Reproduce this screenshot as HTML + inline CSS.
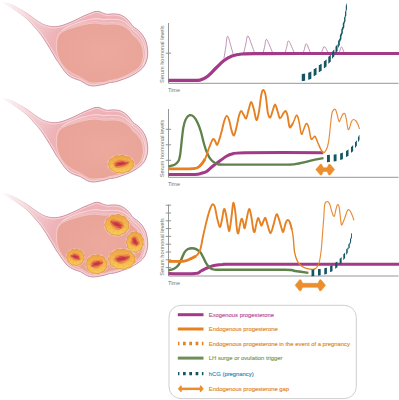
<!DOCTYPE html>
<html><head><meta charset="utf-8"><style>
html,body{margin:0;padding:0;background:#fff;width:399px;height:400px;overflow:hidden}
svg{display:block}
.ax{font-family:"Liberation Sans",sans-serif;font-size:5.9px;fill:#747474}
.lg{font-family:"Liberation Sans",sans-serif;font-size:5.85px;stroke-width:0.15px}
</style></head><body>
<svg width="399" height="400" viewBox="0 0 399 400">
<defs>
<linearGradient id="shell" x1="0" y1="0" x2="1" y2="0">
<stop offset="0" stop-color="#efc3c6"/><stop offset="0.35" stop-color="#e9b0b5"/><stop offset="1" stop-color="#e8abb0"/>
</linearGradient>
<linearGradient id="fade" x1="0" y1="0" x2="1" y2="0">
<stop offset="0" stop-color="#fff" stop-opacity="0.9"/><stop offset="0.4" stop-color="#fff" stop-opacity="0.4"/><stop offset="1" stop-color="#fff" stop-opacity="0"/>
</linearGradient>
<radialGradient id="cav" cx="0.55" cy="0.5" r="0.6">
<stop offset="0" stop-color="#eda99d"/><stop offset="1" stop-color="#e9a398"/>
</radialGradient>
<linearGradient id="folL" x1="0" y1="0" x2="0" y2="1">
<stop offset="0" stop-color="#efa245"/><stop offset="0.5" stop-color="#f4b84c"/><stop offset="1" stop-color="#f8cf5a"/>
</linearGradient>
<radialGradient id="fol" cx="0.5" cy="0.5" r="0.5">
<stop offset="0" stop-color="#e8783c" stop-opacity="0.8"/><stop offset="0.5" stop-color="#f0a040" stop-opacity="0.25"/><stop offset="0.85" stop-color="#f8d060" stop-opacity="0"/><stop offset="1" stop-color="#e39838" stop-opacity="0.5"/>
</radialGradient>
</defs>
<linearGradient id="tube0" gradientUnits="userSpaceOnUse" x1="4" y1="1.0" x2="58" y2="31.0"><stop offset="0" stop-color="#fcf3f3"/><stop offset="0.35" stop-color="#f5dcdf"/><stop offset="0.75" stop-color="#f0c2c6"/><stop offset="1" stop-color="#eeb2b7"/></linearGradient>
<linearGradient id="tubeS0" gradientUnits="userSpaceOnUse" x1="4" y1="1.0" x2="58" y2="31.0"><stop offset="0" stop-color="#f6e4e6"/><stop offset="0.45" stop-color="#e6bcc3"/><stop offset="1" stop-color="#c98b9c"/></linearGradient>
<clipPath id="oc0"><path d="M4.00,2.40 C5.33,2.63 9.33,3.67 12.00,4.80 C14.67,5.93 17.42,7.73 20.00,9.20 C22.58,10.67 25.00,11.93 27.50,13.60 C30.00,15.27 32.50,17.48 35.00,19.20 C37.50,20.92 40.21,22.75 42.50,23.90 C44.79,25.05 46.67,25.63 48.75,26.10 C50.83,26.57 52.79,26.80 55.00,26.70 C57.21,26.60 59.50,26.20 62.00,25.50 C64.50,24.80 67.40,23.58 70.00,22.50 C72.60,21.42 75.33,20.08 77.60,19.00 C79.87,17.92 81.60,16.90 83.60,16.00 C85.60,15.10 87.70,14.33 89.60,13.60 C91.50,12.87 93.43,11.95 95.00,11.60 C96.57,11.25 97.62,11.22 99.00,11.50 C100.38,11.78 101.90,12.83 103.30,13.30 C104.70,13.77 105.80,14.20 107.40,14.30 C109.00,14.40 111.07,13.90 112.90,13.90 C114.73,13.90 116.78,13.97 118.40,14.30 C120.02,14.63 121.22,15.15 122.60,15.90 C123.98,16.65 125.43,17.67 126.70,18.80 C127.97,19.93 129.15,21.42 130.20,22.70 C131.25,23.98 131.93,25.45 133.00,26.50 C134.07,27.55 135.35,28.02 136.60,29.00 C137.85,29.98 139.32,31.10 140.50,32.40 C141.68,33.70 142.77,35.20 143.70,36.80 C144.63,38.40 145.48,40.13 146.10,42.00 C146.72,43.87 147.13,46.00 147.40,48.00 C147.67,50.00 147.78,52.08 147.70,54.00 C147.62,55.92 147.35,57.75 146.90,59.50 C146.45,61.25 145.78,63.03 145.00,64.50 C144.22,65.97 143.28,67.13 142.20,68.30 C141.12,69.47 139.87,70.48 138.50,71.50 C137.13,72.52 135.75,73.42 134.00,74.40 C132.25,75.38 130.17,76.47 128.00,77.40 C125.83,78.33 123.25,79.23 121.00,80.00 C118.75,80.77 116.42,81.57 114.50,82.00 C112.58,82.43 111.17,82.23 109.50,82.60 C107.83,82.97 106.17,83.77 104.50,84.20 C102.83,84.63 101.17,84.90 99.50,85.20 C97.83,85.50 96.17,85.95 94.50,86.00 C92.83,86.05 91.00,85.87 89.50,85.50 C88.00,85.13 87.03,84.62 85.50,83.80 C83.97,82.98 82.30,81.52 80.30,80.60 C78.30,79.68 75.63,79.32 73.50,78.30 C71.37,77.28 69.33,76.13 67.50,74.50 C65.67,72.87 64.00,70.50 62.50,68.50 C61.00,66.50 59.58,64.08 58.50,62.50 C57.42,60.92 56.79,60.25 56.00,59.00 C55.21,57.75 54.75,56.71 53.75,55.00 C52.75,53.29 51.25,50.83 50.00,48.75 C48.75,46.67 47.50,44.48 46.25,42.50 C45.00,40.52 43.75,38.67 42.50,36.90 C41.25,35.13 40.21,33.68 38.75,31.90 C37.29,30.12 35.62,28.28 33.75,26.20 C31.88,24.12 29.79,21.50 27.50,19.40 C25.21,17.30 22.58,15.50 20.00,13.60 C17.42,11.70 14.67,9.70 12.00,8.00 C9.33,6.30 5.33,4.33 4.00,3.40 C2.67,2.47 2.67,2.17 4.00,2.40Z"/></clipPath>
<path d="M4.00,2.40 C5.33,2.63 9.33,3.67 12.00,4.80 C14.67,5.93 17.42,7.73 20.00,9.20 C22.58,10.67 25.00,11.93 27.50,13.60 C30.00,15.27 32.50,17.48 35.00,19.20 C37.50,20.92 40.21,22.75 42.50,23.90 C44.79,25.05 46.67,25.63 48.75,26.10 C50.83,26.57 52.79,26.80 55.00,26.70 C57.21,26.60 59.50,26.20 62.00,25.50 C64.50,24.80 67.40,23.58 70.00,22.50 C72.60,21.42 75.33,20.08 77.60,19.00 C79.87,17.92 81.60,16.90 83.60,16.00 C85.60,15.10 87.70,14.33 89.60,13.60 C91.50,12.87 93.43,11.95 95.00,11.60 C96.57,11.25 97.62,11.22 99.00,11.50 C100.38,11.78 101.90,12.83 103.30,13.30 C104.70,13.77 105.80,14.20 107.40,14.30 C109.00,14.40 111.07,13.90 112.90,13.90 C114.73,13.90 116.78,13.97 118.40,14.30 C120.02,14.63 121.22,15.15 122.60,15.90 C123.98,16.65 125.43,17.67 126.70,18.80 C127.97,19.93 129.15,21.42 130.20,22.70 C131.25,23.98 131.93,25.45 133.00,26.50 C134.07,27.55 135.35,28.02 136.60,29.00 C137.85,29.98 139.32,31.10 140.50,32.40 C141.68,33.70 142.77,35.20 143.70,36.80 C144.63,38.40 145.48,40.13 146.10,42.00 C146.72,43.87 147.13,46.00 147.40,48.00 C147.67,50.00 147.78,52.08 147.70,54.00 C147.62,55.92 147.35,57.75 146.90,59.50 C146.45,61.25 145.78,63.03 145.00,64.50 C144.22,65.97 143.28,67.13 142.20,68.30 C141.12,69.47 139.87,70.48 138.50,71.50 C137.13,72.52 135.75,73.42 134.00,74.40 C132.25,75.38 130.17,76.47 128.00,77.40 C125.83,78.33 123.25,79.23 121.00,80.00 C118.75,80.77 116.42,81.57 114.50,82.00 C112.58,82.43 111.17,82.23 109.50,82.60 C107.83,82.97 106.17,83.77 104.50,84.20 C102.83,84.63 101.17,84.90 99.50,85.20 C97.83,85.50 96.17,85.95 94.50,86.00 C92.83,86.05 91.00,85.87 89.50,85.50 C88.00,85.13 87.03,84.62 85.50,83.80 C83.97,82.98 82.30,81.52 80.30,80.60 C78.30,79.68 75.63,79.32 73.50,78.30 C71.37,77.28 69.33,76.13 67.50,74.50 C65.67,72.87 64.00,70.50 62.50,68.50 C61.00,66.50 59.58,64.08 58.50,62.50 C57.42,60.92 56.79,60.25 56.00,59.00 C55.21,57.75 54.75,56.71 53.75,55.00 C52.75,53.29 51.25,50.83 50.00,48.75 C48.75,46.67 47.50,44.48 46.25,42.50 C45.00,40.52 43.75,38.67 42.50,36.90 C41.25,35.13 40.21,33.68 38.75,31.90 C37.29,30.12 35.62,28.28 33.75,26.20 C31.88,24.12 29.79,21.50 27.50,19.40 C25.21,17.30 22.58,15.50 20.00,13.60 C17.42,11.70 14.67,9.70 12.00,8.00 C9.33,6.30 5.33,4.33 4.00,3.40 C2.67,2.47 2.67,2.17 4.00,2.40Z" fill="url(#tube0)"/>
<path d="M4.00,2.40 C5.33,2.63 9.33,3.67 12.00,4.80 C14.67,5.93 17.42,7.73 20.00,9.20 C22.58,10.67 25.00,11.93 27.50,13.60 C30.00,15.27 32.50,17.48 35.00,19.20 C37.50,20.92 40.21,22.75 42.50,23.90 C44.79,25.05 46.67,25.63 48.75,26.10 C50.83,26.57 52.79,26.80 55.00,26.70 C57.21,26.60 59.50,26.20 62.00,25.50 C64.50,24.80 67.40,23.58 70.00,22.50 C72.60,21.42 75.33,20.08 77.60,19.00 C79.87,17.92 81.60,16.90 83.60,16.00 C85.60,15.10 87.70,14.33 89.60,13.60 C91.50,12.87 93.43,11.95 95.00,11.60 C96.57,11.25 97.62,11.22 99.00,11.50 C100.38,11.78 101.90,12.83 103.30,13.30 C104.70,13.77 105.80,14.20 107.40,14.30 C109.00,14.40 111.07,13.90 112.90,13.90 C114.73,13.90 116.78,13.97 118.40,14.30 C120.02,14.63 121.22,15.15 122.60,15.90 C123.98,16.65 125.43,17.67 126.70,18.80 C127.97,19.93 129.15,21.42 130.20,22.70 C131.25,23.98 131.93,25.45 133.00,26.50 C134.07,27.55 135.35,28.02 136.60,29.00 C137.85,29.98 139.32,31.10 140.50,32.40 C141.68,33.70 142.77,35.20 143.70,36.80 C144.63,38.40 145.48,40.13 146.10,42.00 C146.72,43.87 147.13,46.00 147.40,48.00 C147.67,50.00 147.78,52.08 147.70,54.00 C147.62,55.92 147.35,57.75 146.90,59.50 C146.45,61.25 145.78,63.03 145.00,64.50 C144.22,65.97 143.28,67.13 142.20,68.30 C141.12,69.47 139.87,70.48 138.50,71.50 C137.13,72.52 135.75,73.42 134.00,74.40 C132.25,75.38 130.17,76.47 128.00,77.40 C125.83,78.33 123.25,79.23 121.00,80.00 C118.75,80.77 116.42,81.57 114.50,82.00 C112.58,82.43 111.17,82.23 109.50,82.60 C107.83,82.97 106.17,83.77 104.50,84.20 C102.83,84.63 101.17,84.90 99.50,85.20 C97.83,85.50 96.17,85.95 94.50,86.00 C92.83,86.05 91.00,85.87 89.50,85.50 C88.00,85.13 87.03,84.62 85.50,83.80 C83.97,82.98 82.30,81.52 80.30,80.60 C78.30,79.68 75.63,79.32 73.50,78.30 C71.37,77.28 69.33,76.13 67.50,74.50 C65.67,72.87 64.00,70.50 62.50,68.50 C61.00,66.50 59.58,64.08 58.50,62.50 C57.42,60.92 56.79,60.25 56.00,59.00 C55.21,57.75 54.75,56.71 53.75,55.00 C52.75,53.29 51.25,50.83 50.00,48.75 C48.75,46.67 47.50,44.48 46.25,42.50 C45.00,40.52 43.75,38.67 42.50,36.90 C41.25,35.13 40.21,33.68 38.75,31.90 C37.29,30.12 35.62,28.28 33.75,26.20 C31.88,24.12 29.79,21.50 27.50,19.40 C25.21,17.30 22.58,15.50 20.00,13.60 C17.42,11.70 14.67,9.70 12.00,8.00 C9.33,6.30 5.33,4.33 4.00,3.40 C2.67,2.47 2.67,2.17 4.00,2.40Z" fill="none" stroke="#f5d9dc" stroke-width="3.4" opacity="0.75" clip-path="url(#oc0)"/>
<path d="M4.00,2.40 C5.33,2.63 9.33,3.67 12.00,4.80 C14.67,5.93 17.42,7.73 20.00,9.20 C22.58,10.67 25.00,11.93 27.50,13.60 C30.00,15.27 32.50,17.48 35.00,19.20 C37.50,20.92 40.21,22.75 42.50,23.90 C44.79,25.05 46.67,25.63 48.75,26.10 C50.83,26.57 52.79,26.80 55.00,26.70 C57.21,26.60 59.50,26.20 62.00,25.50 C64.50,24.80 67.40,23.58 70.00,22.50 C72.60,21.42 75.33,20.08 77.60,19.00 C79.87,17.92 81.60,16.90 83.60,16.00 C85.60,15.10 87.70,14.33 89.60,13.60 C91.50,12.87 93.43,11.95 95.00,11.60 C96.57,11.25 97.62,11.22 99.00,11.50 C100.38,11.78 101.90,12.83 103.30,13.30 C104.70,13.77 105.80,14.20 107.40,14.30 C109.00,14.40 111.07,13.90 112.90,13.90 C114.73,13.90 116.78,13.97 118.40,14.30 C120.02,14.63 121.22,15.15 122.60,15.90 C123.98,16.65 125.43,17.67 126.70,18.80 C127.97,19.93 129.15,21.42 130.20,22.70 C131.25,23.98 131.93,25.45 133.00,26.50 C134.07,27.55 135.35,28.02 136.60,29.00 C137.85,29.98 139.32,31.10 140.50,32.40 C141.68,33.70 142.77,35.20 143.70,36.80 C144.63,38.40 145.48,40.13 146.10,42.00 C146.72,43.87 147.13,46.00 147.40,48.00 C147.67,50.00 147.78,52.08 147.70,54.00 C147.62,55.92 147.35,57.75 146.90,59.50 C146.45,61.25 145.78,63.03 145.00,64.50 C144.22,65.97 143.28,67.13 142.20,68.30 C141.12,69.47 139.87,70.48 138.50,71.50 C137.13,72.52 135.75,73.42 134.00,74.40 C132.25,75.38 130.17,76.47 128.00,77.40 C125.83,78.33 123.25,79.23 121.00,80.00 C118.75,80.77 116.42,81.57 114.50,82.00 C112.58,82.43 111.17,82.23 109.50,82.60 C107.83,82.97 106.17,83.77 104.50,84.20 C102.83,84.63 101.17,84.90 99.50,85.20 C97.83,85.50 96.17,85.95 94.50,86.00 C92.83,86.05 91.00,85.87 89.50,85.50 C88.00,85.13 87.03,84.62 85.50,83.80 C83.97,82.98 82.30,81.52 80.30,80.60 C78.30,79.68 75.63,79.32 73.50,78.30 C71.37,77.28 69.33,76.13 67.50,74.50 C65.67,72.87 64.00,70.50 62.50,68.50 C61.00,66.50 59.58,64.08 58.50,62.50 C57.42,60.92 56.79,60.25 56.00,59.00 C55.21,57.75 54.75,56.71 53.75,55.00 C52.75,53.29 51.25,50.83 50.00,48.75 C48.75,46.67 47.50,44.48 46.25,42.50 C45.00,40.52 43.75,38.67 42.50,36.90 C41.25,35.13 40.21,33.68 38.75,31.90 C37.29,30.12 35.62,28.28 33.75,26.20 C31.88,24.12 29.79,21.50 27.50,19.40 C25.21,17.30 22.58,15.50 20.00,13.60 C17.42,11.70 14.67,9.70 12.00,8.00 C9.33,6.30 5.33,4.33 4.00,3.40 C2.67,2.47 2.67,2.17 4.00,2.40Z" fill="none" stroke="url(#tubeS0)" stroke-width="0.9"/>
<path d="M56.60,42.40 C56.73,39.90 56.98,37.32 57.80,35.40 C58.62,33.48 60.05,32.10 61.50,30.90 C62.95,29.70 64.58,29.02 66.50,28.20 C68.42,27.38 70.42,26.80 73.00,26.00 C75.58,25.20 79.00,24.10 82.00,23.40 C85.00,22.70 88.50,22.10 91.00,21.80 C93.50,21.50 94.95,21.47 97.00,21.60 C99.05,21.73 100.87,22.47 103.30,22.60 C105.73,22.73 108.97,22.35 111.60,22.40 C114.23,22.45 116.82,22.37 119.10,22.90 C121.38,23.43 123.57,24.60 125.30,25.60 C127.03,26.60 128.22,27.60 129.50,28.90 C130.78,30.20 131.75,32.07 133.00,33.40 C134.25,34.73 135.67,35.40 137.00,36.90 C138.33,38.40 140.00,40.48 141.00,42.40 C142.00,44.32 142.62,46.40 143.00,48.40 C143.38,50.40 143.47,52.40 143.30,54.40 C143.13,56.40 142.75,58.47 142.00,60.40 C141.25,62.33 140.63,64.17 138.80,66.00 C136.97,67.83 133.72,69.80 131.00,71.40 C128.28,73.00 125.17,74.50 122.50,75.60 C119.83,76.70 117.08,77.45 115.00,78.00 C112.92,78.55 111.67,78.47 110.00,78.90 C108.33,79.33 106.67,80.25 105.00,80.60 C103.33,80.95 101.67,80.87 100.00,81.00 C98.33,81.13 96.67,81.37 95.00,81.40 C93.33,81.43 91.50,81.57 90.00,81.20 C88.50,80.83 87.62,80.13 86.00,79.20 C84.38,78.27 82.67,76.90 80.30,75.60 C77.93,74.30 74.43,73.07 71.80,71.40 C69.17,69.73 66.55,67.77 64.50,65.60 C62.45,63.43 60.75,60.93 59.50,58.40 C58.25,55.87 57.48,53.07 57.00,50.40 C56.52,47.73 56.47,44.90 56.60,42.40Z" fill="none" stroke="#f3cdd0" stroke-width="1.1" opacity="0.6"/>
<path d="M62.00,30.50 C62.83,29.95 65.17,28.22 67.00,27.20 C68.83,26.18 70.50,25.37 73.00,24.40 C75.50,23.43 79.00,22.27 82.00,21.40 C85.00,20.53 88.50,19.67 91.00,19.20 C93.50,18.73 95.00,18.53 97.00,18.60 C99.00,18.67 100.67,19.50 103.00,19.60 C105.33,19.70 108.33,19.18 111.00,19.20 C113.67,19.22 116.67,19.20 119.00,19.70 C121.33,20.20 123.25,21.12 125.00,22.20 C126.75,23.28 128.08,24.80 129.50,26.20 C130.92,27.60 132.08,29.22 133.50,30.60 C134.92,31.98 136.58,32.93 138.00,34.50 C139.42,36.07 140.90,37.92 142.00,40.00 C143.10,42.08 144.03,44.67 144.60,47.00 C145.17,49.33 145.40,51.75 145.40,54.00 C145.40,56.25 145.07,58.58 144.60,60.50 C144.13,62.42 142.93,64.67 142.60,65.50" fill="none" stroke="#f8e2e2" stroke-width="1.1" opacity="0.75"/>
<path d="M56.60,44.00 C56.73,41.50 56.98,38.92 57.80,37.00 C58.62,35.08 60.05,33.70 61.50,32.50 C62.95,31.30 64.58,30.62 66.50,29.80 C68.42,28.98 70.42,28.40 73.00,27.60 C75.58,26.80 79.00,25.70 82.00,25.00 C85.00,24.30 88.50,23.70 91.00,23.40 C93.50,23.10 94.95,23.07 97.00,23.20 C99.05,23.33 100.87,24.07 103.30,24.20 C105.73,24.33 108.97,23.95 111.60,24.00 C114.23,24.05 116.82,23.97 119.10,24.50 C121.38,25.03 123.57,26.20 125.30,27.20 C127.03,28.20 128.22,29.20 129.50,30.50 C130.78,31.80 131.75,33.67 133.00,35.00 C134.25,36.33 135.67,37.00 137.00,38.50 C138.33,40.00 140.00,42.08 141.00,44.00 C142.00,45.92 142.62,48.00 143.00,50.00 C143.38,52.00 143.47,54.00 143.30,56.00 C143.13,58.00 142.75,60.07 142.00,62.00 C141.25,63.93 140.63,65.77 138.80,67.60 C136.97,69.43 133.72,71.40 131.00,73.00 C128.28,74.60 125.17,76.10 122.50,77.20 C119.83,78.30 117.08,79.05 115.00,79.60 C112.92,80.15 111.67,80.07 110.00,80.50 C108.33,80.93 106.67,81.85 105.00,82.20 C103.33,82.55 101.67,82.47 100.00,82.60 C98.33,82.73 96.67,82.97 95.00,83.00 C93.33,83.03 91.50,83.17 90.00,82.80 C88.50,82.43 87.62,81.73 86.00,80.80 C84.38,79.87 82.67,78.50 80.30,77.20 C77.93,75.90 74.43,74.67 71.80,73.00 C69.17,71.33 66.55,69.37 64.50,67.20 C62.45,65.03 60.75,62.53 59.50,60.00 C58.25,57.47 57.48,54.67 57.00,52.00 C56.52,49.33 56.47,46.50 56.60,44.00Z" fill="url(#cav)" stroke="#f2cfc6" stroke-width="0.8"/>
<rect x="0" y="-2.0" width="30" height="30" fill="url(#fade)"/>
<linearGradient id="tube96" gradientUnits="userSpaceOnUse" x1="4" y1="97.0" x2="58" y2="127.0"><stop offset="0" stop-color="#fcf3f3"/><stop offset="0.35" stop-color="#f5dcdf"/><stop offset="0.75" stop-color="#f0c2c6"/><stop offset="1" stop-color="#eeb2b7"/></linearGradient>
<linearGradient id="tubeS96" gradientUnits="userSpaceOnUse" x1="4" y1="97.0" x2="58" y2="127.0"><stop offset="0" stop-color="#f6e4e6"/><stop offset="0.45" stop-color="#e6bcc3"/><stop offset="1" stop-color="#c98b9c"/></linearGradient>
<clipPath id="oc96"><path d="M4.00,98.40 C5.33,98.63 9.33,99.67 12.00,100.80 C14.67,101.93 17.42,103.73 20.00,105.20 C22.58,106.67 25.00,107.93 27.50,109.60 C30.00,111.27 32.50,113.48 35.00,115.20 C37.50,116.92 40.21,118.75 42.50,119.90 C44.79,121.05 46.67,121.63 48.75,122.10 C50.83,122.57 52.79,122.80 55.00,122.70 C57.21,122.60 59.50,122.20 62.00,121.50 C64.50,120.80 67.40,119.58 70.00,118.50 C72.60,117.42 75.33,116.08 77.60,115.00 C79.87,113.92 81.60,112.90 83.60,112.00 C85.60,111.10 87.70,110.33 89.60,109.60 C91.50,108.87 93.43,107.95 95.00,107.60 C96.57,107.25 97.62,107.22 99.00,107.50 C100.38,107.78 101.90,108.83 103.30,109.30 C104.70,109.77 105.80,110.20 107.40,110.30 C109.00,110.40 111.07,109.90 112.90,109.90 C114.73,109.90 116.78,109.97 118.40,110.30 C120.02,110.63 121.22,111.15 122.60,111.90 C123.98,112.65 125.43,113.67 126.70,114.80 C127.97,115.93 129.15,117.42 130.20,118.70 C131.25,119.98 131.93,121.45 133.00,122.50 C134.07,123.55 135.35,124.02 136.60,125.00 C137.85,125.98 139.32,127.10 140.50,128.40 C141.68,129.70 142.77,131.20 143.70,132.80 C144.63,134.40 145.48,136.13 146.10,138.00 C146.72,139.87 147.13,142.00 147.40,144.00 C147.67,146.00 147.78,148.08 147.70,150.00 C147.62,151.92 147.35,153.75 146.90,155.50 C146.45,157.25 145.78,159.03 145.00,160.50 C144.22,161.97 143.28,163.13 142.20,164.30 C141.12,165.47 139.87,166.48 138.50,167.50 C137.13,168.52 135.75,169.42 134.00,170.40 C132.25,171.38 130.17,172.47 128.00,173.40 C125.83,174.33 123.25,175.23 121.00,176.00 C118.75,176.77 116.42,177.57 114.50,178.00 C112.58,178.43 111.17,178.23 109.50,178.60 C107.83,178.97 106.17,179.77 104.50,180.20 C102.83,180.63 101.17,180.90 99.50,181.20 C97.83,181.50 96.17,181.95 94.50,182.00 C92.83,182.05 91.00,181.87 89.50,181.50 C88.00,181.13 87.03,180.62 85.50,179.80 C83.97,178.98 82.30,177.52 80.30,176.60 C78.30,175.68 75.63,175.32 73.50,174.30 C71.37,173.28 69.33,172.13 67.50,170.50 C65.67,168.87 64.00,166.50 62.50,164.50 C61.00,162.50 59.58,160.08 58.50,158.50 C57.42,156.92 56.79,156.25 56.00,155.00 C55.21,153.75 54.75,152.71 53.75,151.00 C52.75,149.29 51.25,146.83 50.00,144.75 C48.75,142.67 47.50,140.47 46.25,138.50 C45.00,136.53 43.75,134.67 42.50,132.90 C41.25,131.13 40.21,129.68 38.75,127.90 C37.29,126.12 35.62,124.28 33.75,122.20 C31.88,120.12 29.79,117.50 27.50,115.40 C25.21,113.30 22.58,111.50 20.00,109.60 C17.42,107.70 14.67,105.70 12.00,104.00 C9.33,102.30 5.33,100.33 4.00,99.40 C2.67,98.47 2.67,98.17 4.00,98.40Z"/></clipPath>
<path d="M4.00,98.40 C5.33,98.63 9.33,99.67 12.00,100.80 C14.67,101.93 17.42,103.73 20.00,105.20 C22.58,106.67 25.00,107.93 27.50,109.60 C30.00,111.27 32.50,113.48 35.00,115.20 C37.50,116.92 40.21,118.75 42.50,119.90 C44.79,121.05 46.67,121.63 48.75,122.10 C50.83,122.57 52.79,122.80 55.00,122.70 C57.21,122.60 59.50,122.20 62.00,121.50 C64.50,120.80 67.40,119.58 70.00,118.50 C72.60,117.42 75.33,116.08 77.60,115.00 C79.87,113.92 81.60,112.90 83.60,112.00 C85.60,111.10 87.70,110.33 89.60,109.60 C91.50,108.87 93.43,107.95 95.00,107.60 C96.57,107.25 97.62,107.22 99.00,107.50 C100.38,107.78 101.90,108.83 103.30,109.30 C104.70,109.77 105.80,110.20 107.40,110.30 C109.00,110.40 111.07,109.90 112.90,109.90 C114.73,109.90 116.78,109.97 118.40,110.30 C120.02,110.63 121.22,111.15 122.60,111.90 C123.98,112.65 125.43,113.67 126.70,114.80 C127.97,115.93 129.15,117.42 130.20,118.70 C131.25,119.98 131.93,121.45 133.00,122.50 C134.07,123.55 135.35,124.02 136.60,125.00 C137.85,125.98 139.32,127.10 140.50,128.40 C141.68,129.70 142.77,131.20 143.70,132.80 C144.63,134.40 145.48,136.13 146.10,138.00 C146.72,139.87 147.13,142.00 147.40,144.00 C147.67,146.00 147.78,148.08 147.70,150.00 C147.62,151.92 147.35,153.75 146.90,155.50 C146.45,157.25 145.78,159.03 145.00,160.50 C144.22,161.97 143.28,163.13 142.20,164.30 C141.12,165.47 139.87,166.48 138.50,167.50 C137.13,168.52 135.75,169.42 134.00,170.40 C132.25,171.38 130.17,172.47 128.00,173.40 C125.83,174.33 123.25,175.23 121.00,176.00 C118.75,176.77 116.42,177.57 114.50,178.00 C112.58,178.43 111.17,178.23 109.50,178.60 C107.83,178.97 106.17,179.77 104.50,180.20 C102.83,180.63 101.17,180.90 99.50,181.20 C97.83,181.50 96.17,181.95 94.50,182.00 C92.83,182.05 91.00,181.87 89.50,181.50 C88.00,181.13 87.03,180.62 85.50,179.80 C83.97,178.98 82.30,177.52 80.30,176.60 C78.30,175.68 75.63,175.32 73.50,174.30 C71.37,173.28 69.33,172.13 67.50,170.50 C65.67,168.87 64.00,166.50 62.50,164.50 C61.00,162.50 59.58,160.08 58.50,158.50 C57.42,156.92 56.79,156.25 56.00,155.00 C55.21,153.75 54.75,152.71 53.75,151.00 C52.75,149.29 51.25,146.83 50.00,144.75 C48.75,142.67 47.50,140.47 46.25,138.50 C45.00,136.53 43.75,134.67 42.50,132.90 C41.25,131.13 40.21,129.68 38.75,127.90 C37.29,126.12 35.62,124.28 33.75,122.20 C31.88,120.12 29.79,117.50 27.50,115.40 C25.21,113.30 22.58,111.50 20.00,109.60 C17.42,107.70 14.67,105.70 12.00,104.00 C9.33,102.30 5.33,100.33 4.00,99.40 C2.67,98.47 2.67,98.17 4.00,98.40Z" fill="url(#tube96)"/>
<path d="M4.00,98.40 C5.33,98.63 9.33,99.67 12.00,100.80 C14.67,101.93 17.42,103.73 20.00,105.20 C22.58,106.67 25.00,107.93 27.50,109.60 C30.00,111.27 32.50,113.48 35.00,115.20 C37.50,116.92 40.21,118.75 42.50,119.90 C44.79,121.05 46.67,121.63 48.75,122.10 C50.83,122.57 52.79,122.80 55.00,122.70 C57.21,122.60 59.50,122.20 62.00,121.50 C64.50,120.80 67.40,119.58 70.00,118.50 C72.60,117.42 75.33,116.08 77.60,115.00 C79.87,113.92 81.60,112.90 83.60,112.00 C85.60,111.10 87.70,110.33 89.60,109.60 C91.50,108.87 93.43,107.95 95.00,107.60 C96.57,107.25 97.62,107.22 99.00,107.50 C100.38,107.78 101.90,108.83 103.30,109.30 C104.70,109.77 105.80,110.20 107.40,110.30 C109.00,110.40 111.07,109.90 112.90,109.90 C114.73,109.90 116.78,109.97 118.40,110.30 C120.02,110.63 121.22,111.15 122.60,111.90 C123.98,112.65 125.43,113.67 126.70,114.80 C127.97,115.93 129.15,117.42 130.20,118.70 C131.25,119.98 131.93,121.45 133.00,122.50 C134.07,123.55 135.35,124.02 136.60,125.00 C137.85,125.98 139.32,127.10 140.50,128.40 C141.68,129.70 142.77,131.20 143.70,132.80 C144.63,134.40 145.48,136.13 146.10,138.00 C146.72,139.87 147.13,142.00 147.40,144.00 C147.67,146.00 147.78,148.08 147.70,150.00 C147.62,151.92 147.35,153.75 146.90,155.50 C146.45,157.25 145.78,159.03 145.00,160.50 C144.22,161.97 143.28,163.13 142.20,164.30 C141.12,165.47 139.87,166.48 138.50,167.50 C137.13,168.52 135.75,169.42 134.00,170.40 C132.25,171.38 130.17,172.47 128.00,173.40 C125.83,174.33 123.25,175.23 121.00,176.00 C118.75,176.77 116.42,177.57 114.50,178.00 C112.58,178.43 111.17,178.23 109.50,178.60 C107.83,178.97 106.17,179.77 104.50,180.20 C102.83,180.63 101.17,180.90 99.50,181.20 C97.83,181.50 96.17,181.95 94.50,182.00 C92.83,182.05 91.00,181.87 89.50,181.50 C88.00,181.13 87.03,180.62 85.50,179.80 C83.97,178.98 82.30,177.52 80.30,176.60 C78.30,175.68 75.63,175.32 73.50,174.30 C71.37,173.28 69.33,172.13 67.50,170.50 C65.67,168.87 64.00,166.50 62.50,164.50 C61.00,162.50 59.58,160.08 58.50,158.50 C57.42,156.92 56.79,156.25 56.00,155.00 C55.21,153.75 54.75,152.71 53.75,151.00 C52.75,149.29 51.25,146.83 50.00,144.75 C48.75,142.67 47.50,140.47 46.25,138.50 C45.00,136.53 43.75,134.67 42.50,132.90 C41.25,131.13 40.21,129.68 38.75,127.90 C37.29,126.12 35.62,124.28 33.75,122.20 C31.88,120.12 29.79,117.50 27.50,115.40 C25.21,113.30 22.58,111.50 20.00,109.60 C17.42,107.70 14.67,105.70 12.00,104.00 C9.33,102.30 5.33,100.33 4.00,99.40 C2.67,98.47 2.67,98.17 4.00,98.40Z" fill="none" stroke="#f5d9dc" stroke-width="3.4" opacity="0.75" clip-path="url(#oc96)"/>
<path d="M4.00,98.40 C5.33,98.63 9.33,99.67 12.00,100.80 C14.67,101.93 17.42,103.73 20.00,105.20 C22.58,106.67 25.00,107.93 27.50,109.60 C30.00,111.27 32.50,113.48 35.00,115.20 C37.50,116.92 40.21,118.75 42.50,119.90 C44.79,121.05 46.67,121.63 48.75,122.10 C50.83,122.57 52.79,122.80 55.00,122.70 C57.21,122.60 59.50,122.20 62.00,121.50 C64.50,120.80 67.40,119.58 70.00,118.50 C72.60,117.42 75.33,116.08 77.60,115.00 C79.87,113.92 81.60,112.90 83.60,112.00 C85.60,111.10 87.70,110.33 89.60,109.60 C91.50,108.87 93.43,107.95 95.00,107.60 C96.57,107.25 97.62,107.22 99.00,107.50 C100.38,107.78 101.90,108.83 103.30,109.30 C104.70,109.77 105.80,110.20 107.40,110.30 C109.00,110.40 111.07,109.90 112.90,109.90 C114.73,109.90 116.78,109.97 118.40,110.30 C120.02,110.63 121.22,111.15 122.60,111.90 C123.98,112.65 125.43,113.67 126.70,114.80 C127.97,115.93 129.15,117.42 130.20,118.70 C131.25,119.98 131.93,121.45 133.00,122.50 C134.07,123.55 135.35,124.02 136.60,125.00 C137.85,125.98 139.32,127.10 140.50,128.40 C141.68,129.70 142.77,131.20 143.70,132.80 C144.63,134.40 145.48,136.13 146.10,138.00 C146.72,139.87 147.13,142.00 147.40,144.00 C147.67,146.00 147.78,148.08 147.70,150.00 C147.62,151.92 147.35,153.75 146.90,155.50 C146.45,157.25 145.78,159.03 145.00,160.50 C144.22,161.97 143.28,163.13 142.20,164.30 C141.12,165.47 139.87,166.48 138.50,167.50 C137.13,168.52 135.75,169.42 134.00,170.40 C132.25,171.38 130.17,172.47 128.00,173.40 C125.83,174.33 123.25,175.23 121.00,176.00 C118.75,176.77 116.42,177.57 114.50,178.00 C112.58,178.43 111.17,178.23 109.50,178.60 C107.83,178.97 106.17,179.77 104.50,180.20 C102.83,180.63 101.17,180.90 99.50,181.20 C97.83,181.50 96.17,181.95 94.50,182.00 C92.83,182.05 91.00,181.87 89.50,181.50 C88.00,181.13 87.03,180.62 85.50,179.80 C83.97,178.98 82.30,177.52 80.30,176.60 C78.30,175.68 75.63,175.32 73.50,174.30 C71.37,173.28 69.33,172.13 67.50,170.50 C65.67,168.87 64.00,166.50 62.50,164.50 C61.00,162.50 59.58,160.08 58.50,158.50 C57.42,156.92 56.79,156.25 56.00,155.00 C55.21,153.75 54.75,152.71 53.75,151.00 C52.75,149.29 51.25,146.83 50.00,144.75 C48.75,142.67 47.50,140.47 46.25,138.50 C45.00,136.53 43.75,134.67 42.50,132.90 C41.25,131.13 40.21,129.68 38.75,127.90 C37.29,126.12 35.62,124.28 33.75,122.20 C31.88,120.12 29.79,117.50 27.50,115.40 C25.21,113.30 22.58,111.50 20.00,109.60 C17.42,107.70 14.67,105.70 12.00,104.00 C9.33,102.30 5.33,100.33 4.00,99.40 C2.67,98.47 2.67,98.17 4.00,98.40Z" fill="none" stroke="url(#tubeS96)" stroke-width="0.9"/>
<path d="M56.60,138.40 C56.73,135.90 56.98,133.32 57.80,131.40 C58.62,129.48 60.05,128.10 61.50,126.90 C62.95,125.70 64.58,125.02 66.50,124.20 C68.42,123.38 70.42,122.80 73.00,122.00 C75.58,121.20 79.00,120.10 82.00,119.40 C85.00,118.70 88.50,118.10 91.00,117.80 C93.50,117.50 94.95,117.47 97.00,117.60 C99.05,117.73 100.87,118.47 103.30,118.60 C105.73,118.73 108.97,118.35 111.60,118.40 C114.23,118.45 116.82,118.37 119.10,118.90 C121.38,119.43 123.57,120.60 125.30,121.60 C127.03,122.60 128.22,123.60 129.50,124.90 C130.78,126.20 131.75,128.07 133.00,129.40 C134.25,130.73 135.67,131.40 137.00,132.90 C138.33,134.40 140.00,136.48 141.00,138.40 C142.00,140.32 142.62,142.40 143.00,144.40 C143.38,146.40 143.47,148.40 143.30,150.40 C143.13,152.40 142.75,154.47 142.00,156.40 C141.25,158.33 140.63,160.17 138.80,162.00 C136.97,163.83 133.72,165.80 131.00,167.40 C128.28,169.00 125.17,170.50 122.50,171.60 C119.83,172.70 117.08,173.45 115.00,174.00 C112.92,174.55 111.67,174.47 110.00,174.90 C108.33,175.33 106.67,176.25 105.00,176.60 C103.33,176.95 101.67,176.87 100.00,177.00 C98.33,177.13 96.67,177.37 95.00,177.40 C93.33,177.43 91.50,177.57 90.00,177.20 C88.50,176.83 87.62,176.13 86.00,175.20 C84.38,174.27 82.67,172.90 80.30,171.60 C77.93,170.30 74.43,169.07 71.80,167.40 C69.17,165.73 66.55,163.77 64.50,161.60 C62.45,159.43 60.75,156.93 59.50,154.40 C58.25,151.87 57.48,149.07 57.00,146.40 C56.52,143.73 56.47,140.90 56.60,138.40Z" fill="none" stroke="#f3cdd0" stroke-width="1.1" opacity="0.6"/>
<path d="M62.00,126.50 C62.83,125.95 65.17,124.22 67.00,123.20 C68.83,122.18 70.50,121.37 73.00,120.40 C75.50,119.43 79.00,118.27 82.00,117.40 C85.00,116.53 88.50,115.67 91.00,115.20 C93.50,114.73 95.00,114.53 97.00,114.60 C99.00,114.67 100.67,115.50 103.00,115.60 C105.33,115.70 108.33,115.18 111.00,115.20 C113.67,115.22 116.67,115.20 119.00,115.70 C121.33,116.20 123.25,117.12 125.00,118.20 C126.75,119.28 128.08,120.80 129.50,122.20 C130.92,123.60 132.08,125.22 133.50,126.60 C134.92,127.98 136.58,128.93 138.00,130.50 C139.42,132.07 140.90,133.92 142.00,136.00 C143.10,138.08 144.03,140.67 144.60,143.00 C145.17,145.33 145.40,147.75 145.40,150.00 C145.40,152.25 145.07,154.58 144.60,156.50 C144.13,158.42 142.93,160.67 142.60,161.50" fill="none" stroke="#f8e2e2" stroke-width="1.1" opacity="0.75"/>
<path d="M56.60,140.00 C56.73,137.50 56.98,134.92 57.80,133.00 C58.62,131.08 60.05,129.70 61.50,128.50 C62.95,127.30 64.58,126.62 66.50,125.80 C68.42,124.98 70.42,124.40 73.00,123.60 C75.58,122.80 79.00,121.70 82.00,121.00 C85.00,120.30 88.50,119.70 91.00,119.40 C93.50,119.10 94.95,119.07 97.00,119.20 C99.05,119.33 100.87,120.07 103.30,120.20 C105.73,120.33 108.97,119.95 111.60,120.00 C114.23,120.05 116.82,119.97 119.10,120.50 C121.38,121.03 123.57,122.20 125.30,123.20 C127.03,124.20 128.22,125.20 129.50,126.50 C130.78,127.80 131.75,129.67 133.00,131.00 C134.25,132.33 135.67,133.00 137.00,134.50 C138.33,136.00 140.00,138.08 141.00,140.00 C142.00,141.92 142.62,144.00 143.00,146.00 C143.38,148.00 143.47,150.00 143.30,152.00 C143.13,154.00 142.75,156.07 142.00,158.00 C141.25,159.93 140.63,161.77 138.80,163.60 C136.97,165.43 133.72,167.40 131.00,169.00 C128.28,170.60 125.17,172.10 122.50,173.20 C119.83,174.30 117.08,175.05 115.00,175.60 C112.92,176.15 111.67,176.07 110.00,176.50 C108.33,176.93 106.67,177.85 105.00,178.20 C103.33,178.55 101.67,178.47 100.00,178.60 C98.33,178.73 96.67,178.97 95.00,179.00 C93.33,179.03 91.50,179.17 90.00,178.80 C88.50,178.43 87.62,177.73 86.00,176.80 C84.38,175.87 82.67,174.50 80.30,173.20 C77.93,171.90 74.43,170.67 71.80,169.00 C69.17,167.33 66.55,165.37 64.50,163.20 C62.45,161.03 60.75,158.53 59.50,156.00 C58.25,153.47 57.48,150.67 57.00,148.00 C56.52,145.33 56.47,142.50 56.60,140.00Z" fill="url(#cav)" stroke="#f2cfc6" stroke-width="0.8"/>
<rect x="0" y="94.0" width="30" height="30" fill="url(#fade)"/>
<ellipse cx="121.0" cy="164.2" rx="14.0" ry="10.0" fill="#f3cdbf" opacity="0.6"/>
<path d="M132.83,164.20 L133.07,164.60 L133.27,165.01 L133.43,165.44 L133.53,165.87 L133.56,166.31 L133.47,166.74 L133.21,167.13 L132.85,167.48 L132.43,167.81 L131.96,168.11 L131.46,168.38 L130.95,168.63 L130.84,169.05 L130.69,169.48 L130.49,169.90 L130.24,170.30 L129.92,170.67 L129.51,171.00 L128.99,171.23 L128.40,171.40 L127.79,171.52 L127.16,171.59 L126.54,171.63 L125.91,171.65 L125.49,171.96 L125.03,172.27 L124.54,172.54 L124.01,172.79 L123.45,172.98 L122.85,173.11 L122.23,173.11 L121.61,173.03 L121.00,172.90 L120.41,172.73 L119.85,172.52 L119.32,172.31 L118.71,172.41 L118.09,172.49 L117.46,172.54 L116.82,172.55 L116.20,172.50 L115.60,172.39 L115.08,172.15 L114.62,171.85 L114.21,171.52 L113.85,171.15 L113.53,170.77 L113.25,170.39 L112.66,170.25 L112.08,170.09 L111.51,169.90 L110.97,169.66 L110.47,169.39 L110.06,169.07 L109.81,168.67 L109.65,168.25 L109.57,167.81 L109.56,167.37 L109.59,166.94 L109.65,166.51 L109.26,166.17 L108.89,165.82 L108.57,165.44 L108.29,165.04 L108.09,164.63 L108.00,164.20 L108.09,163.77 L108.29,163.36 L108.57,162.96 L108.89,162.58 L109.26,162.23 L109.65,161.89 L109.59,161.46 L109.56,161.03 L109.57,160.59 L109.65,160.15 L109.81,159.73 L110.06,159.33 L110.47,159.01 L110.97,158.74 L111.51,158.50 L112.08,158.31 L112.66,158.15 L113.25,158.01 L113.53,157.63 L113.85,157.25 L114.21,156.88 L114.62,156.55 L115.08,156.25 L115.60,156.01 L116.20,155.90 L116.82,155.85 L117.46,155.86 L118.09,155.91 L118.71,155.99 L119.32,156.09 L119.85,155.88 L120.41,155.67 L121.00,155.50 L121.61,155.37 L122.23,155.29 L122.85,155.29 L123.45,155.42 L124.01,155.61 L124.54,155.86 L125.03,156.13 L125.49,156.44 L125.91,156.75 L126.54,156.77 L127.16,156.81 L127.79,156.88 L128.40,157.00 L128.99,157.17 L129.51,157.40 L129.92,157.73 L130.24,158.10 L130.49,158.50 L130.69,158.92 L130.84,159.35 L130.95,159.77 L131.46,160.02 L131.96,160.29 L132.43,160.59 L132.85,160.92 L133.21,161.27 L133.47,161.66 L133.56,162.09 L133.53,162.53 L133.43,162.96 L133.27,163.39 L133.07,163.80Z" fill="url(#folL)" stroke="#d98c3a" stroke-width="0.75"/>
<path d="M132.83,164.20 L133.07,164.60 L133.27,165.01 L133.43,165.44 L133.53,165.87 L133.56,166.31 L133.47,166.74 L133.21,167.13 L132.85,167.48 L132.43,167.81 L131.96,168.11 L131.46,168.38 L130.95,168.63 L130.84,169.05 L130.69,169.48 L130.49,169.90 L130.24,170.30 L129.92,170.67 L129.51,171.00 L128.99,171.23 L128.40,171.40 L127.79,171.52 L127.16,171.59 L126.54,171.63 L125.91,171.65 L125.49,171.96 L125.03,172.27 L124.54,172.54 L124.01,172.79 L123.45,172.98 L122.85,173.11 L122.23,173.11 L121.61,173.03 L121.00,172.90 L120.41,172.73 L119.85,172.52 L119.32,172.31 L118.71,172.41 L118.09,172.49 L117.46,172.54 L116.82,172.55 L116.20,172.50 L115.60,172.39 L115.08,172.15 L114.62,171.85 L114.21,171.52 L113.85,171.15 L113.53,170.77 L113.25,170.39 L112.66,170.25 L112.08,170.09 L111.51,169.90 L110.97,169.66 L110.47,169.39 L110.06,169.07 L109.81,168.67 L109.65,168.25 L109.57,167.81 L109.56,167.37 L109.59,166.94 L109.65,166.51 L109.26,166.17 L108.89,165.82 L108.57,165.44 L108.29,165.04 L108.09,164.63 L108.00,164.20 L108.09,163.77 L108.29,163.36 L108.57,162.96 L108.89,162.58 L109.26,162.23 L109.65,161.89 L109.59,161.46 L109.56,161.03 L109.57,160.59 L109.65,160.15 L109.81,159.73 L110.06,159.33 L110.47,159.01 L110.97,158.74 L111.51,158.50 L112.08,158.31 L112.66,158.15 L113.25,158.01 L113.53,157.63 L113.85,157.25 L114.21,156.88 L114.62,156.55 L115.08,156.25 L115.60,156.01 L116.20,155.90 L116.82,155.85 L117.46,155.86 L118.09,155.91 L118.71,155.99 L119.32,156.09 L119.85,155.88 L120.41,155.67 L121.00,155.50 L121.61,155.37 L122.23,155.29 L122.85,155.29 L123.45,155.42 L124.01,155.61 L124.54,155.86 L125.03,156.13 L125.49,156.44 L125.91,156.75 L126.54,156.77 L127.16,156.81 L127.79,156.88 L128.40,157.00 L128.99,157.17 L129.51,157.40 L129.92,157.73 L130.24,158.10 L130.49,158.50 L130.69,158.92 L130.84,159.35 L130.95,159.77 L131.46,160.02 L131.96,160.29 L132.43,160.59 L132.85,160.92 L133.21,161.27 L133.47,161.66 L133.56,162.09 L133.53,162.53 L133.43,162.96 L133.27,163.39 L133.07,163.80Z" fill="url(#fol)"/>
<path d="M128.48,165.72 L131.98,166.43 M126.11,168.28 L128.49,170.19 M122.11,169.55 L122.63,172.04 M117.76,169.11 L116.25,171.40 M114.44,167.12 L111.38,168.48 M113.20,164.20 L109.56,164.20 M114.44,161.28 L111.38,159.92 M117.76,159.29 L116.25,157.00 M122.11,158.85 L122.63,156.36 M126.11,160.12 L128.49,158.21 M128.48,162.68 L131.98,161.97" stroke="#e69a3c" stroke-width="0.55" opacity="0.55"/>
<path d="M129.57,162.55 C129.47,162.86 129.16,163.19 128.93,163.49 C128.70,163.79 128.45,164.06 128.20,164.35 C127.96,164.63 127.76,164.91 127.44,165.18 C127.13,165.45 126.76,165.72 126.31,165.95 C125.86,166.17 125.30,166.35 124.76,166.51 C124.23,166.66 123.65,166.76 123.11,166.88 C122.57,167.01 122.07,167.14 121.50,167.28 C120.93,167.43 120.34,167.64 119.70,167.77 C119.06,167.91 118.29,168.06 117.65,168.07 C117.01,168.08 116.32,168.00 115.85,167.84 C115.39,167.67 115.08,167.36 114.86,167.09 C114.64,166.81 114.64,166.47 114.54,166.20 C114.43,165.92 114.38,165.69 114.23,165.45 C114.07,165.22 113.79,165.03 113.61,164.79 C113.43,164.55 113.17,164.29 113.13,164.01 C113.09,163.73 113.17,163.41 113.36,163.12 C113.56,162.83 113.94,162.54 114.31,162.27 C114.67,161.99 115.11,161.75 115.54,161.49 C115.97,161.24 116.39,160.97 116.89,160.74 C117.39,160.50 117.94,160.24 118.53,160.09 C119.13,159.93 119.83,159.82 120.44,159.80 C121.06,159.78 121.69,159.88 122.22,159.98 C122.75,160.07 123.17,160.25 123.63,160.36 C124.09,160.46 124.48,160.53 124.98,160.59 C125.49,160.64 126.10,160.61 126.68,160.66 C127.26,160.72 127.98,160.77 128.46,160.93 C128.94,161.08 129.37,161.33 129.55,161.60 C129.74,161.87 129.68,162.23 129.57,162.55Z" fill="#e2704c" opacity="0.55"/>
<path d="M128.65,162.67 C128.76,162.84 128.58,163.08 128.32,163.28 C128.06,163.48 127.50,163.69 127.10,163.87 C126.69,164.04 126.25,164.18 125.90,164.34 C125.55,164.49 125.32,164.64 125.00,164.79 C124.69,164.95 124.39,165.12 124.00,165.25 C123.61,165.38 123.12,165.50 122.67,165.57 C122.21,165.65 121.72,165.66 121.27,165.70 C120.82,165.73 120.44,165.74 119.98,165.80 C119.51,165.87 119.04,165.98 118.48,166.06 C117.93,166.15 117.22,166.29 116.66,166.32 C116.11,166.34 115.46,166.32 115.14,166.22 C114.81,166.12 114.68,165.89 114.69,165.69 C114.71,165.49 115.06,165.21 115.24,165.01 C115.42,164.81 115.71,164.64 115.78,164.48 C115.84,164.33 115.72,164.23 115.63,164.09 C115.54,163.95 115.27,163.81 115.24,163.64 C115.21,163.47 115.25,163.26 115.46,163.09 C115.67,162.91 116.11,162.73 116.51,162.58 C116.91,162.43 117.42,162.31 117.87,162.18 C118.32,162.05 118.75,161.93 119.22,161.80 C119.68,161.68 120.17,161.51 120.67,161.42 C121.18,161.32 121.78,161.23 122.25,161.23 C122.73,161.23 123.20,161.32 123.53,161.43 C123.86,161.53 124.01,161.72 124.22,161.84 C124.44,161.96 124.52,162.08 124.83,162.14 C125.13,162.20 125.56,162.18 126.03,162.20 C126.50,162.23 127.22,162.22 127.66,162.29 C128.09,162.37 128.54,162.51 128.65,162.67Z" fill="#d2404a" opacity="0.85"/>
<path d="M124.73,163.23 C124.70,163.30 124.73,163.36 124.70,163.43 C124.68,163.50 124.69,163.57 124.59,163.65 C124.48,163.72 124.30,163.81 124.08,163.88 C123.86,163.95 123.54,164.02 123.28,164.08 C123.03,164.14 122.78,164.18 122.55,164.24 C122.32,164.30 122.16,164.37 121.92,164.45 C121.69,164.54 121.44,164.65 121.14,164.73 C120.84,164.81 120.44,164.90 120.12,164.93 C119.80,164.97 119.44,164.97 119.21,164.94 C118.98,164.91 118.85,164.82 118.73,164.77 C118.61,164.71 118.59,164.63 118.48,164.59 C118.36,164.55 118.22,164.53 118.04,164.51 C117.86,164.48 117.57,164.48 117.40,164.45 C117.23,164.42 117.05,164.37 117.00,164.31 C116.96,164.25 117.03,164.17 117.12,164.09 C117.20,164.01 117.39,163.93 117.52,163.85 C117.65,163.77 117.76,163.70 117.88,163.62 C118.01,163.54 118.09,163.45 118.27,163.36 C118.45,163.27 118.69,163.17 118.97,163.11 C119.25,163.04 119.64,162.98 119.96,162.96 C120.28,162.93 120.62,162.95 120.89,162.95 C121.16,162.95 121.35,162.97 121.59,162.96 C121.83,162.94 122.05,162.90 122.34,162.86 C122.63,162.82 123.01,162.73 123.35,162.70 C123.69,162.66 124.10,162.62 124.36,162.63 C124.62,162.64 124.80,162.70 124.89,162.76 C124.97,162.82 124.90,162.92 124.88,163.00 C124.85,163.07 124.76,163.15 124.73,163.23Z" fill="#b82a40" opacity="0.7"/>
<linearGradient id="tube191" gradientUnits="userSpaceOnUse" x1="4" y1="192.0" x2="58" y2="222.0"><stop offset="0" stop-color="#fcf3f3"/><stop offset="0.35" stop-color="#f5dcdf"/><stop offset="0.75" stop-color="#f0c2c6"/><stop offset="1" stop-color="#eeb2b7"/></linearGradient>
<linearGradient id="tubeS191" gradientUnits="userSpaceOnUse" x1="4" y1="192.0" x2="58" y2="222.0"><stop offset="0" stop-color="#f6e4e6"/><stop offset="0.45" stop-color="#e6bcc3"/><stop offset="1" stop-color="#c98b9c"/></linearGradient>
<clipPath id="oc191"><path d="M4.00,193.40 C5.33,193.63 9.33,194.67 12.00,195.80 C14.67,196.93 17.42,198.73 20.00,200.20 C22.58,201.67 25.00,202.93 27.50,204.60 C30.00,206.27 32.50,208.48 35.00,210.20 C37.50,211.92 40.21,213.75 42.50,214.90 C44.79,216.05 46.67,216.63 48.75,217.10 C50.83,217.57 52.79,217.80 55.00,217.70 C57.21,217.60 59.50,217.20 62.00,216.50 C64.50,215.80 67.40,214.58 70.00,213.50 C72.60,212.42 75.33,211.08 77.60,210.00 C79.87,208.92 81.60,207.90 83.60,207.00 C85.60,206.10 87.70,205.33 89.60,204.60 C91.50,203.87 93.43,202.95 95.00,202.60 C96.57,202.25 97.62,202.22 99.00,202.50 C100.38,202.78 101.90,203.83 103.30,204.30 C104.70,204.77 105.80,205.20 107.40,205.30 C109.00,205.40 111.07,204.90 112.90,204.90 C114.73,204.90 116.78,204.97 118.40,205.30 C120.02,205.63 121.22,206.15 122.60,206.90 C123.98,207.65 125.43,208.67 126.70,209.80 C127.97,210.93 129.15,212.42 130.20,213.70 C131.25,214.98 131.93,216.45 133.00,217.50 C134.07,218.55 135.35,219.02 136.60,220.00 C137.85,220.98 139.32,222.10 140.50,223.40 C141.68,224.70 142.77,226.20 143.70,227.80 C144.63,229.40 145.48,231.13 146.10,233.00 C146.72,234.87 147.13,237.00 147.40,239.00 C147.67,241.00 147.78,243.08 147.70,245.00 C147.62,246.92 147.35,248.75 146.90,250.50 C146.45,252.25 145.78,254.03 145.00,255.50 C144.22,256.97 143.28,258.13 142.20,259.30 C141.12,260.47 139.87,261.48 138.50,262.50 C137.13,263.52 135.75,264.42 134.00,265.40 C132.25,266.38 130.17,267.47 128.00,268.40 C125.83,269.33 123.25,270.23 121.00,271.00 C118.75,271.77 116.42,272.57 114.50,273.00 C112.58,273.43 111.17,273.23 109.50,273.60 C107.83,273.97 106.17,274.77 104.50,275.20 C102.83,275.63 101.17,275.90 99.50,276.20 C97.83,276.50 96.17,276.95 94.50,277.00 C92.83,277.05 91.00,276.87 89.50,276.50 C88.00,276.13 87.03,275.62 85.50,274.80 C83.97,273.98 82.30,272.52 80.30,271.60 C78.30,270.68 75.63,270.32 73.50,269.30 C71.37,268.28 69.33,267.13 67.50,265.50 C65.67,263.87 64.00,261.50 62.50,259.50 C61.00,257.50 59.58,255.08 58.50,253.50 C57.42,251.92 56.79,251.25 56.00,250.00 C55.21,248.75 54.75,247.71 53.75,246.00 C52.75,244.29 51.25,241.83 50.00,239.75 C48.75,237.67 47.50,235.47 46.25,233.50 C45.00,231.53 43.75,229.67 42.50,227.90 C41.25,226.13 40.21,224.68 38.75,222.90 C37.29,221.12 35.62,219.28 33.75,217.20 C31.88,215.12 29.79,212.50 27.50,210.40 C25.21,208.30 22.58,206.50 20.00,204.60 C17.42,202.70 14.67,200.70 12.00,199.00 C9.33,197.30 5.33,195.33 4.00,194.40 C2.67,193.47 2.67,193.17 4.00,193.40Z"/></clipPath>
<path d="M4.00,193.40 C5.33,193.63 9.33,194.67 12.00,195.80 C14.67,196.93 17.42,198.73 20.00,200.20 C22.58,201.67 25.00,202.93 27.50,204.60 C30.00,206.27 32.50,208.48 35.00,210.20 C37.50,211.92 40.21,213.75 42.50,214.90 C44.79,216.05 46.67,216.63 48.75,217.10 C50.83,217.57 52.79,217.80 55.00,217.70 C57.21,217.60 59.50,217.20 62.00,216.50 C64.50,215.80 67.40,214.58 70.00,213.50 C72.60,212.42 75.33,211.08 77.60,210.00 C79.87,208.92 81.60,207.90 83.60,207.00 C85.60,206.10 87.70,205.33 89.60,204.60 C91.50,203.87 93.43,202.95 95.00,202.60 C96.57,202.25 97.62,202.22 99.00,202.50 C100.38,202.78 101.90,203.83 103.30,204.30 C104.70,204.77 105.80,205.20 107.40,205.30 C109.00,205.40 111.07,204.90 112.90,204.90 C114.73,204.90 116.78,204.97 118.40,205.30 C120.02,205.63 121.22,206.15 122.60,206.90 C123.98,207.65 125.43,208.67 126.70,209.80 C127.97,210.93 129.15,212.42 130.20,213.70 C131.25,214.98 131.93,216.45 133.00,217.50 C134.07,218.55 135.35,219.02 136.60,220.00 C137.85,220.98 139.32,222.10 140.50,223.40 C141.68,224.70 142.77,226.20 143.70,227.80 C144.63,229.40 145.48,231.13 146.10,233.00 C146.72,234.87 147.13,237.00 147.40,239.00 C147.67,241.00 147.78,243.08 147.70,245.00 C147.62,246.92 147.35,248.75 146.90,250.50 C146.45,252.25 145.78,254.03 145.00,255.50 C144.22,256.97 143.28,258.13 142.20,259.30 C141.12,260.47 139.87,261.48 138.50,262.50 C137.13,263.52 135.75,264.42 134.00,265.40 C132.25,266.38 130.17,267.47 128.00,268.40 C125.83,269.33 123.25,270.23 121.00,271.00 C118.75,271.77 116.42,272.57 114.50,273.00 C112.58,273.43 111.17,273.23 109.50,273.60 C107.83,273.97 106.17,274.77 104.50,275.20 C102.83,275.63 101.17,275.90 99.50,276.20 C97.83,276.50 96.17,276.95 94.50,277.00 C92.83,277.05 91.00,276.87 89.50,276.50 C88.00,276.13 87.03,275.62 85.50,274.80 C83.97,273.98 82.30,272.52 80.30,271.60 C78.30,270.68 75.63,270.32 73.50,269.30 C71.37,268.28 69.33,267.13 67.50,265.50 C65.67,263.87 64.00,261.50 62.50,259.50 C61.00,257.50 59.58,255.08 58.50,253.50 C57.42,251.92 56.79,251.25 56.00,250.00 C55.21,248.75 54.75,247.71 53.75,246.00 C52.75,244.29 51.25,241.83 50.00,239.75 C48.75,237.67 47.50,235.47 46.25,233.50 C45.00,231.53 43.75,229.67 42.50,227.90 C41.25,226.13 40.21,224.68 38.75,222.90 C37.29,221.12 35.62,219.28 33.75,217.20 C31.88,215.12 29.79,212.50 27.50,210.40 C25.21,208.30 22.58,206.50 20.00,204.60 C17.42,202.70 14.67,200.70 12.00,199.00 C9.33,197.30 5.33,195.33 4.00,194.40 C2.67,193.47 2.67,193.17 4.00,193.40Z" fill="url(#tube191)"/>
<path d="M4.00,193.40 C5.33,193.63 9.33,194.67 12.00,195.80 C14.67,196.93 17.42,198.73 20.00,200.20 C22.58,201.67 25.00,202.93 27.50,204.60 C30.00,206.27 32.50,208.48 35.00,210.20 C37.50,211.92 40.21,213.75 42.50,214.90 C44.79,216.05 46.67,216.63 48.75,217.10 C50.83,217.57 52.79,217.80 55.00,217.70 C57.21,217.60 59.50,217.20 62.00,216.50 C64.50,215.80 67.40,214.58 70.00,213.50 C72.60,212.42 75.33,211.08 77.60,210.00 C79.87,208.92 81.60,207.90 83.60,207.00 C85.60,206.10 87.70,205.33 89.60,204.60 C91.50,203.87 93.43,202.95 95.00,202.60 C96.57,202.25 97.62,202.22 99.00,202.50 C100.38,202.78 101.90,203.83 103.30,204.30 C104.70,204.77 105.80,205.20 107.40,205.30 C109.00,205.40 111.07,204.90 112.90,204.90 C114.73,204.90 116.78,204.97 118.40,205.30 C120.02,205.63 121.22,206.15 122.60,206.90 C123.98,207.65 125.43,208.67 126.70,209.80 C127.97,210.93 129.15,212.42 130.20,213.70 C131.25,214.98 131.93,216.45 133.00,217.50 C134.07,218.55 135.35,219.02 136.60,220.00 C137.85,220.98 139.32,222.10 140.50,223.40 C141.68,224.70 142.77,226.20 143.70,227.80 C144.63,229.40 145.48,231.13 146.10,233.00 C146.72,234.87 147.13,237.00 147.40,239.00 C147.67,241.00 147.78,243.08 147.70,245.00 C147.62,246.92 147.35,248.75 146.90,250.50 C146.45,252.25 145.78,254.03 145.00,255.50 C144.22,256.97 143.28,258.13 142.20,259.30 C141.12,260.47 139.87,261.48 138.50,262.50 C137.13,263.52 135.75,264.42 134.00,265.40 C132.25,266.38 130.17,267.47 128.00,268.40 C125.83,269.33 123.25,270.23 121.00,271.00 C118.75,271.77 116.42,272.57 114.50,273.00 C112.58,273.43 111.17,273.23 109.50,273.60 C107.83,273.97 106.17,274.77 104.50,275.20 C102.83,275.63 101.17,275.90 99.50,276.20 C97.83,276.50 96.17,276.95 94.50,277.00 C92.83,277.05 91.00,276.87 89.50,276.50 C88.00,276.13 87.03,275.62 85.50,274.80 C83.97,273.98 82.30,272.52 80.30,271.60 C78.30,270.68 75.63,270.32 73.50,269.30 C71.37,268.28 69.33,267.13 67.50,265.50 C65.67,263.87 64.00,261.50 62.50,259.50 C61.00,257.50 59.58,255.08 58.50,253.50 C57.42,251.92 56.79,251.25 56.00,250.00 C55.21,248.75 54.75,247.71 53.75,246.00 C52.75,244.29 51.25,241.83 50.00,239.75 C48.75,237.67 47.50,235.47 46.25,233.50 C45.00,231.53 43.75,229.67 42.50,227.90 C41.25,226.13 40.21,224.68 38.75,222.90 C37.29,221.12 35.62,219.28 33.75,217.20 C31.88,215.12 29.79,212.50 27.50,210.40 C25.21,208.30 22.58,206.50 20.00,204.60 C17.42,202.70 14.67,200.70 12.00,199.00 C9.33,197.30 5.33,195.33 4.00,194.40 C2.67,193.47 2.67,193.17 4.00,193.40Z" fill="none" stroke="#f5d9dc" stroke-width="3.4" opacity="0.75" clip-path="url(#oc191)"/>
<path d="M4.00,193.40 C5.33,193.63 9.33,194.67 12.00,195.80 C14.67,196.93 17.42,198.73 20.00,200.20 C22.58,201.67 25.00,202.93 27.50,204.60 C30.00,206.27 32.50,208.48 35.00,210.20 C37.50,211.92 40.21,213.75 42.50,214.90 C44.79,216.05 46.67,216.63 48.75,217.10 C50.83,217.57 52.79,217.80 55.00,217.70 C57.21,217.60 59.50,217.20 62.00,216.50 C64.50,215.80 67.40,214.58 70.00,213.50 C72.60,212.42 75.33,211.08 77.60,210.00 C79.87,208.92 81.60,207.90 83.60,207.00 C85.60,206.10 87.70,205.33 89.60,204.60 C91.50,203.87 93.43,202.95 95.00,202.60 C96.57,202.25 97.62,202.22 99.00,202.50 C100.38,202.78 101.90,203.83 103.30,204.30 C104.70,204.77 105.80,205.20 107.40,205.30 C109.00,205.40 111.07,204.90 112.90,204.90 C114.73,204.90 116.78,204.97 118.40,205.30 C120.02,205.63 121.22,206.15 122.60,206.90 C123.98,207.65 125.43,208.67 126.70,209.80 C127.97,210.93 129.15,212.42 130.20,213.70 C131.25,214.98 131.93,216.45 133.00,217.50 C134.07,218.55 135.35,219.02 136.60,220.00 C137.85,220.98 139.32,222.10 140.50,223.40 C141.68,224.70 142.77,226.20 143.70,227.80 C144.63,229.40 145.48,231.13 146.10,233.00 C146.72,234.87 147.13,237.00 147.40,239.00 C147.67,241.00 147.78,243.08 147.70,245.00 C147.62,246.92 147.35,248.75 146.90,250.50 C146.45,252.25 145.78,254.03 145.00,255.50 C144.22,256.97 143.28,258.13 142.20,259.30 C141.12,260.47 139.87,261.48 138.50,262.50 C137.13,263.52 135.75,264.42 134.00,265.40 C132.25,266.38 130.17,267.47 128.00,268.40 C125.83,269.33 123.25,270.23 121.00,271.00 C118.75,271.77 116.42,272.57 114.50,273.00 C112.58,273.43 111.17,273.23 109.50,273.60 C107.83,273.97 106.17,274.77 104.50,275.20 C102.83,275.63 101.17,275.90 99.50,276.20 C97.83,276.50 96.17,276.95 94.50,277.00 C92.83,277.05 91.00,276.87 89.50,276.50 C88.00,276.13 87.03,275.62 85.50,274.80 C83.97,273.98 82.30,272.52 80.30,271.60 C78.30,270.68 75.63,270.32 73.50,269.30 C71.37,268.28 69.33,267.13 67.50,265.50 C65.67,263.87 64.00,261.50 62.50,259.50 C61.00,257.50 59.58,255.08 58.50,253.50 C57.42,251.92 56.79,251.25 56.00,250.00 C55.21,248.75 54.75,247.71 53.75,246.00 C52.75,244.29 51.25,241.83 50.00,239.75 C48.75,237.67 47.50,235.47 46.25,233.50 C45.00,231.53 43.75,229.67 42.50,227.90 C41.25,226.13 40.21,224.68 38.75,222.90 C37.29,221.12 35.62,219.28 33.75,217.20 C31.88,215.12 29.79,212.50 27.50,210.40 C25.21,208.30 22.58,206.50 20.00,204.60 C17.42,202.70 14.67,200.70 12.00,199.00 C9.33,197.30 5.33,195.33 4.00,194.40 C2.67,193.47 2.67,193.17 4.00,193.40Z" fill="none" stroke="url(#tubeS191)" stroke-width="0.9"/>
<path d="M56.60,233.40 C56.73,230.90 56.98,228.32 57.80,226.40 C58.62,224.48 60.05,223.10 61.50,221.90 C62.95,220.70 64.58,220.02 66.50,219.20 C68.42,218.38 70.42,217.80 73.00,217.00 C75.58,216.20 79.00,215.10 82.00,214.40 C85.00,213.70 88.50,213.10 91.00,212.80 C93.50,212.50 94.95,212.47 97.00,212.60 C99.05,212.73 100.87,213.47 103.30,213.60 C105.73,213.73 108.97,213.35 111.60,213.40 C114.23,213.45 116.82,213.37 119.10,213.90 C121.38,214.43 123.57,215.60 125.30,216.60 C127.03,217.60 128.22,218.60 129.50,219.90 C130.78,221.20 131.75,223.07 133.00,224.40 C134.25,225.73 135.67,226.40 137.00,227.90 C138.33,229.40 140.00,231.48 141.00,233.40 C142.00,235.32 142.62,237.40 143.00,239.40 C143.38,241.40 143.47,243.40 143.30,245.40 C143.13,247.40 142.75,249.47 142.00,251.40 C141.25,253.33 140.63,255.17 138.80,257.00 C136.97,258.83 133.72,260.80 131.00,262.40 C128.28,264.00 125.17,265.50 122.50,266.60 C119.83,267.70 117.08,268.45 115.00,269.00 C112.92,269.55 111.67,269.47 110.00,269.90 C108.33,270.33 106.67,271.25 105.00,271.60 C103.33,271.95 101.67,271.87 100.00,272.00 C98.33,272.13 96.67,272.37 95.00,272.40 C93.33,272.43 91.50,272.57 90.00,272.20 C88.50,271.83 87.62,271.13 86.00,270.20 C84.38,269.27 82.67,267.90 80.30,266.60 C77.93,265.30 74.43,264.07 71.80,262.40 C69.17,260.73 66.55,258.77 64.50,256.60 C62.45,254.43 60.75,251.93 59.50,249.40 C58.25,246.87 57.48,244.07 57.00,241.40 C56.52,238.73 56.47,235.90 56.60,233.40Z" fill="none" stroke="#f3cdd0" stroke-width="1.1" opacity="0.6"/>
<path d="M62.00,221.50 C62.83,220.95 65.17,219.22 67.00,218.20 C68.83,217.18 70.50,216.37 73.00,215.40 C75.50,214.43 79.00,213.27 82.00,212.40 C85.00,211.53 88.50,210.67 91.00,210.20 C93.50,209.73 95.00,209.53 97.00,209.60 C99.00,209.67 100.67,210.50 103.00,210.60 C105.33,210.70 108.33,210.18 111.00,210.20 C113.67,210.22 116.67,210.20 119.00,210.70 C121.33,211.20 123.25,212.12 125.00,213.20 C126.75,214.28 128.08,215.80 129.50,217.20 C130.92,218.60 132.08,220.22 133.50,221.60 C134.92,222.98 136.58,223.93 138.00,225.50 C139.42,227.07 140.90,228.92 142.00,231.00 C143.10,233.08 144.03,235.67 144.60,238.00 C145.17,240.33 145.40,242.75 145.40,245.00 C145.40,247.25 145.07,249.58 144.60,251.50 C144.13,253.42 142.93,255.67 142.60,256.50" fill="none" stroke="#f8e2e2" stroke-width="1.1" opacity="0.75"/>
<path d="M56.60,235.00 C56.73,232.50 56.98,229.92 57.80,228.00 C58.62,226.08 60.05,224.70 61.50,223.50 C62.95,222.30 64.58,221.62 66.50,220.80 C68.42,219.98 70.42,219.40 73.00,218.60 C75.58,217.80 79.00,216.70 82.00,216.00 C85.00,215.30 88.50,214.70 91.00,214.40 C93.50,214.10 94.95,214.07 97.00,214.20 C99.05,214.33 100.87,215.07 103.30,215.20 C105.73,215.33 108.97,214.95 111.60,215.00 C114.23,215.05 116.82,214.97 119.10,215.50 C121.38,216.03 123.57,217.20 125.30,218.20 C127.03,219.20 128.22,220.20 129.50,221.50 C130.78,222.80 131.75,224.67 133.00,226.00 C134.25,227.33 135.67,228.00 137.00,229.50 C138.33,231.00 140.00,233.08 141.00,235.00 C142.00,236.92 142.62,239.00 143.00,241.00 C143.38,243.00 143.47,245.00 143.30,247.00 C143.13,249.00 142.75,251.07 142.00,253.00 C141.25,254.93 140.63,256.77 138.80,258.60 C136.97,260.43 133.72,262.40 131.00,264.00 C128.28,265.60 125.17,267.10 122.50,268.20 C119.83,269.30 117.08,270.05 115.00,270.60 C112.92,271.15 111.67,271.07 110.00,271.50 C108.33,271.93 106.67,272.85 105.00,273.20 C103.33,273.55 101.67,273.47 100.00,273.60 C98.33,273.73 96.67,273.97 95.00,274.00 C93.33,274.03 91.50,274.17 90.00,273.80 C88.50,273.43 87.62,272.73 86.00,271.80 C84.38,270.87 82.67,269.50 80.30,268.20 C77.93,266.90 74.43,265.67 71.80,264.00 C69.17,262.33 66.55,260.37 64.50,258.20 C62.45,256.03 60.75,253.53 59.50,251.00 C58.25,248.47 57.48,245.67 57.00,243.00 C56.52,240.33 56.47,237.50 56.60,235.00Z" fill="url(#cav)" stroke="#f2cfc6" stroke-width="0.8"/>
<rect x="0" y="189.0" width="30" height="30" fill="url(#fade)"/>
<ellipse cx="117.0" cy="225.0" rx="13.2" ry="11.6" fill="#f3cdbf" opacity="0.6"/>
<path d="M128.10,225.00 L128.32,225.47 L128.52,225.96 L128.67,226.46 L128.76,226.97 L128.78,227.48 L128.71,227.99 L128.46,228.45 L128.12,228.87 L127.72,229.26 L127.28,229.61 L126.82,229.92 L126.34,230.22 L126.23,230.71 L126.09,231.21 L125.91,231.71 L125.67,232.18 L125.37,232.63 L124.99,233.01 L124.50,233.28 L123.95,233.48 L123.37,233.62 L122.78,233.71 L122.19,233.75 L121.61,233.77 L121.21,234.14 L120.78,234.50 L120.32,234.83 L119.82,235.12 L119.29,235.35 L118.74,235.49 L118.15,235.49 L117.57,235.40 L117.00,235.24 L116.45,235.04 L115.92,234.80 L115.42,234.55 L114.85,234.67 L114.27,234.77 L113.68,234.83 L113.08,234.84 L112.49,234.78 L111.93,234.64 L111.44,234.36 L111.01,234.01 L110.63,233.62 L110.29,233.19 L109.99,232.74 L109.73,232.29 L109.18,232.13 L108.63,231.94 L108.09,231.71 L107.58,231.43 L107.12,231.11 L106.74,230.73 L106.50,230.27 L106.35,229.77 L106.28,229.26 L106.26,228.74 L106.29,228.22 L106.35,227.72 L105.98,227.32 L105.64,226.90 L105.33,226.46 L105.07,225.99 L104.89,225.50 L104.80,225.00 L104.89,224.50 L105.07,224.01 L105.33,223.54 L105.64,223.10 L105.98,222.68 L106.35,222.28 L106.29,221.78 L106.26,221.26 L106.28,220.74 L106.35,220.23 L106.50,219.73 L106.74,219.27 L107.12,218.89 L107.58,218.57 L108.09,218.29 L108.63,218.06 L109.18,217.87 L109.73,217.71 L109.99,217.26 L110.29,216.81 L110.63,216.38 L111.01,215.99 L111.44,215.64 L111.93,215.36 L112.49,215.22 L113.08,215.16 L113.68,215.17 L114.27,215.23 L114.85,215.33 L115.42,215.45 L115.92,215.20 L116.45,214.96 L117.00,214.76 L117.57,214.60 L118.15,214.51 L118.74,214.51 L119.29,214.65 L119.82,214.88 L120.32,215.17 L120.78,215.50 L121.21,215.86 L121.61,216.23 L122.19,216.25 L122.78,216.29 L123.37,216.38 L123.95,216.52 L124.50,216.72 L124.99,216.99 L125.37,217.37 L125.67,217.82 L125.91,218.29 L126.09,218.79 L126.23,219.29 L126.34,219.78 L126.82,220.08 L127.28,220.39 L127.72,220.74 L128.12,221.13 L128.46,221.55 L128.71,222.01 L128.78,222.52 L128.76,223.03 L128.67,223.54 L128.52,224.04 L128.32,224.53Z" fill="url(#folL)" stroke="#d98c3a" stroke-width="0.75"/>
<path d="M128.10,225.00 L128.32,225.47 L128.52,225.96 L128.67,226.46 L128.76,226.97 L128.78,227.48 L128.71,227.99 L128.46,228.45 L128.12,228.87 L127.72,229.26 L127.28,229.61 L126.82,229.92 L126.34,230.22 L126.23,230.71 L126.09,231.21 L125.91,231.71 L125.67,232.18 L125.37,232.63 L124.99,233.01 L124.50,233.28 L123.95,233.48 L123.37,233.62 L122.78,233.71 L122.19,233.75 L121.61,233.77 L121.21,234.14 L120.78,234.50 L120.32,234.83 L119.82,235.12 L119.29,235.35 L118.74,235.49 L118.15,235.49 L117.57,235.40 L117.00,235.24 L116.45,235.04 L115.92,234.80 L115.42,234.55 L114.85,234.67 L114.27,234.77 L113.68,234.83 L113.08,234.84 L112.49,234.78 L111.93,234.64 L111.44,234.36 L111.01,234.01 L110.63,233.62 L110.29,233.19 L109.99,232.74 L109.73,232.29 L109.18,232.13 L108.63,231.94 L108.09,231.71 L107.58,231.43 L107.12,231.11 L106.74,230.73 L106.50,230.27 L106.35,229.77 L106.28,229.26 L106.26,228.74 L106.29,228.22 L106.35,227.72 L105.98,227.32 L105.64,226.90 L105.33,226.46 L105.07,225.99 L104.89,225.50 L104.80,225.00 L104.89,224.50 L105.07,224.01 L105.33,223.54 L105.64,223.10 L105.98,222.68 L106.35,222.28 L106.29,221.78 L106.26,221.26 L106.28,220.74 L106.35,220.23 L106.50,219.73 L106.74,219.27 L107.12,218.89 L107.58,218.57 L108.09,218.29 L108.63,218.06 L109.18,217.87 L109.73,217.71 L109.99,217.26 L110.29,216.81 L110.63,216.38 L111.01,215.99 L111.44,215.64 L111.93,215.36 L112.49,215.22 L113.08,215.16 L113.68,215.17 L114.27,215.23 L114.85,215.33 L115.42,215.45 L115.92,215.20 L116.45,214.96 L117.00,214.76 L117.57,214.60 L118.15,214.51 L118.74,214.51 L119.29,214.65 L119.82,214.88 L120.32,215.17 L120.78,215.50 L121.21,215.86 L121.61,216.23 L122.19,216.25 L122.78,216.29 L123.37,216.38 L123.95,216.52 L124.50,216.72 L124.99,216.99 L125.37,217.37 L125.67,217.82 L125.91,218.29 L126.09,218.79 L126.23,219.29 L126.34,219.78 L126.82,220.08 L127.28,220.39 L127.72,220.74 L128.12,221.13 L128.46,221.55 L128.71,222.01 L128.78,222.52 L128.76,223.03 L128.67,223.54 L128.52,224.04 L128.32,224.53Z" fill="url(#fol)"/>
<path d="M124.02,226.79 L127.30,227.63 M121.79,229.81 L124.03,232.05 M118.04,231.30 L118.53,234.23 M113.96,230.79 L112.54,233.49 M110.84,228.44 L107.97,230.04 M109.68,225.00 L106.26,225.00 M110.84,221.56 L107.97,219.96 M113.96,219.21 L112.54,216.51 M118.04,218.70 L118.53,215.77 M121.79,220.19 L124.03,217.95 M124.02,223.21 L127.30,222.37" stroke="#e69a3c" stroke-width="0.55" opacity="0.55"/>
<path d="M123.89,227.68 C123.68,227.94 123.30,228.12 122.95,228.28 C122.60,228.44 122.16,228.49 121.80,228.62 C121.45,228.75 121.15,228.87 120.82,229.05 C120.49,229.22 120.23,229.49 119.83,229.66 C119.43,229.83 118.95,230.04 118.42,230.05 C117.89,230.07 117.22,229.96 116.65,229.74 C116.08,229.52 115.48,229.11 115.00,228.75 C114.53,228.39 114.16,227.93 113.78,227.56 C113.40,227.19 113.11,226.85 112.75,226.52 C112.39,226.18 111.98,225.90 111.62,225.56 C111.26,225.22 110.85,224.85 110.59,224.49 C110.32,224.12 110.13,223.71 110.04,223.35 C109.94,222.98 109.99,222.63 110.01,222.29 C110.04,221.94 110.11,221.63 110.18,221.29 C110.24,220.95 110.27,220.57 110.42,220.25 C110.57,219.93 110.75,219.56 111.08,219.36 C111.42,219.15 111.92,219.02 112.45,219.02 C112.97,219.02 113.65,219.20 114.22,219.37 C114.79,219.53 115.36,219.83 115.86,220.01 C116.37,220.19 116.78,220.34 117.27,220.45 C117.75,220.56 118.23,220.57 118.77,220.68 C119.31,220.79 119.95,220.89 120.50,221.11 C121.05,221.34 121.65,221.67 122.09,222.02 C122.52,222.37 122.85,222.83 123.11,223.23 C123.38,223.64 123.50,224.06 123.65,224.45 C123.80,224.85 123.93,225.23 124.02,225.60 C124.12,225.98 124.24,226.38 124.22,226.72 C124.20,227.07 124.10,227.42 123.89,227.68Z" fill="#e2704c" opacity="0.55"/>
<path d="M121.53,226.58 C121.39,226.70 121.35,226.82 121.35,227.03 C121.35,227.23 121.54,227.56 121.53,227.81 C121.52,228.05 121.51,228.38 121.28,228.51 C121.05,228.64 120.60,228.68 120.14,228.58 C119.69,228.49 119.06,228.20 118.56,227.96 C118.06,227.71 117.59,227.37 117.17,227.13 C116.75,226.89 116.43,226.69 116.05,226.51 C115.67,226.32 115.28,226.20 114.89,226.02 C114.50,225.84 114.04,225.64 113.70,225.41 C113.35,225.18 113.05,224.91 112.82,224.66 C112.59,224.41 112.48,224.17 112.30,223.93 C112.12,223.68 111.96,223.46 111.73,223.19 C111.50,222.92 111.14,222.61 110.93,222.31 C110.72,222.02 110.46,221.65 110.48,221.43 C110.50,221.21 110.71,221.02 111.05,220.97 C111.39,220.93 112.01,221.05 112.50,221.16 C112.99,221.26 113.57,221.51 113.97,221.61 C114.38,221.71 114.64,221.77 114.93,221.76 C115.22,221.76 115.39,221.61 115.70,221.57 C116.01,221.52 116.39,221.43 116.81,221.48 C117.22,221.54 117.76,221.70 118.20,221.89 C118.64,222.09 119.08,222.41 119.45,222.67 C119.82,222.94 120.11,223.23 120.43,223.49 C120.76,223.76 121.09,224.00 121.40,224.27 C121.71,224.53 122.08,224.82 122.29,225.08 C122.49,225.34 122.64,225.63 122.62,225.83 C122.60,226.04 122.37,226.19 122.19,226.31 C122.01,226.44 121.67,226.47 121.53,226.58Z" fill="#d2404a" opacity="0.85"/>
<path d="M120.20,225.96 C120.17,226.04 120.20,226.14 120.14,226.19 C120.08,226.25 120.00,226.31 119.85,226.31 C119.69,226.32 119.44,226.26 119.22,226.21 C119.00,226.15 118.72,226.04 118.51,225.97 C118.29,225.91 118.11,225.86 117.91,225.82 C117.71,225.78 117.54,225.80 117.30,225.76 C117.06,225.72 116.77,225.68 116.48,225.58 C116.20,225.48 115.84,225.33 115.60,225.18 C115.35,225.03 115.15,224.83 115.01,224.68 C114.87,224.53 114.85,224.40 114.78,224.27 C114.70,224.15 114.67,224.07 114.56,223.95 C114.45,223.84 114.27,223.72 114.12,223.59 C113.97,223.46 113.75,223.29 113.66,223.17 C113.57,223.05 113.53,222.94 113.57,222.87 C113.60,222.80 113.76,222.78 113.87,222.75 C113.99,222.72 114.14,222.72 114.26,222.69 C114.38,222.67 114.46,222.61 114.59,222.59 C114.73,222.56 114.86,222.52 115.07,222.54 C115.28,222.57 115.57,222.64 115.84,222.75 C116.11,222.86 116.44,223.04 116.70,223.19 C116.96,223.35 117.17,223.53 117.38,223.66 C117.59,223.79 117.73,223.89 117.95,223.99 C118.17,224.10 118.42,224.17 118.69,224.29 C118.97,224.41 119.35,224.55 119.62,224.70 C119.88,224.85 120.17,225.03 120.31,225.17 C120.45,225.31 120.48,225.44 120.48,225.54 C120.49,225.64 120.37,225.69 120.33,225.76 C120.28,225.83 120.23,225.89 120.20,225.96Z" fill="#b82a40" opacity="0.7"/>
<ellipse cx="135.0" cy="242.0" rx="9.5" ry="11.4" fill="#f3cdbf" opacity="0.6"/>
<path d="M142.74,242.00 L142.89,242.46 L143.02,242.94 L143.13,243.43 L143.20,243.93 L143.21,244.44 L143.16,244.93 L142.98,245.38 L142.75,245.80 L142.47,246.17 L142.16,246.52 L141.84,246.83 L141.51,247.12 L141.43,247.61 L141.34,248.10 L141.21,248.58 L141.04,249.05 L140.83,249.48 L140.57,249.86 L140.22,250.13 L139.84,250.32 L139.44,250.45 L139.03,250.54 L138.62,250.59 L138.21,250.61 L137.94,250.97 L137.64,251.32 L137.31,251.64 L136.97,251.92 L136.60,252.15 L136.21,252.29 L135.80,252.29 L135.40,252.20 L135.00,252.05 L134.62,251.85 L134.25,251.62 L133.90,251.37 L133.51,251.49 L133.10,251.58 L132.69,251.64 L132.27,251.65 L131.86,251.60 L131.47,251.46 L131.13,251.19 L130.83,250.84 L130.56,250.45 L130.32,250.03 L130.12,249.60 L129.93,249.15 L129.55,248.99 L129.17,248.81 L128.79,248.58 L128.44,248.31 L128.12,248.00 L127.85,247.62 L127.68,247.17 L127.58,246.68 L127.53,246.17 L127.52,245.67 L127.54,245.16 L127.58,244.67 L127.32,244.28 L127.09,243.87 L126.87,243.43 L126.69,242.97 L126.56,242.49 L126.50,242.00 L126.56,241.51 L126.69,241.03 L126.87,240.57 L127.09,240.13 L127.32,239.72 L127.58,239.33 L127.54,238.84 L127.52,238.33 L127.53,237.83 L127.58,237.32 L127.68,236.83 L127.85,236.38 L128.12,236.00 L128.44,235.69 L128.79,235.42 L129.17,235.19 L129.55,235.01 L129.93,234.85 L130.12,234.40 L130.32,233.97 L130.56,233.55 L130.83,233.16 L131.13,232.81 L131.47,232.54 L131.86,232.40 L132.27,232.35 L132.69,232.36 L133.10,232.42 L133.51,232.51 L133.90,232.63 L134.25,232.38 L134.62,232.15 L135.00,231.95 L135.40,231.80 L135.80,231.71 L136.21,231.71 L136.60,231.85 L136.97,232.08 L137.31,232.36 L137.64,232.68 L137.94,233.03 L138.21,233.39 L138.62,233.41 L139.03,233.46 L139.44,233.55 L139.84,233.68 L140.22,233.87 L140.57,234.14 L140.83,234.52 L141.04,234.95 L141.21,235.42 L141.34,235.90 L141.43,236.39 L141.51,236.88 L141.84,237.17 L142.16,237.48 L142.47,237.83 L142.75,238.20 L142.98,238.62 L143.16,239.07 L143.21,239.56 L143.20,240.07 L143.13,240.57 L143.02,241.06 L142.89,241.54Z" fill="url(#folL)" stroke="#d98c3a" stroke-width="0.75"/>
<path d="M142.74,242.00 L142.89,242.46 L143.02,242.94 L143.13,243.43 L143.20,243.93 L143.21,244.44 L143.16,244.93 L142.98,245.38 L142.75,245.80 L142.47,246.17 L142.16,246.52 L141.84,246.83 L141.51,247.12 L141.43,247.61 L141.34,248.10 L141.21,248.58 L141.04,249.05 L140.83,249.48 L140.57,249.86 L140.22,250.13 L139.84,250.32 L139.44,250.45 L139.03,250.54 L138.62,250.59 L138.21,250.61 L137.94,250.97 L137.64,251.32 L137.31,251.64 L136.97,251.92 L136.60,252.15 L136.21,252.29 L135.80,252.29 L135.40,252.20 L135.00,252.05 L134.62,251.85 L134.25,251.62 L133.90,251.37 L133.51,251.49 L133.10,251.58 L132.69,251.64 L132.27,251.65 L131.86,251.60 L131.47,251.46 L131.13,251.19 L130.83,250.84 L130.56,250.45 L130.32,250.03 L130.12,249.60 L129.93,249.15 L129.55,248.99 L129.17,248.81 L128.79,248.58 L128.44,248.31 L128.12,248.00 L127.85,247.62 L127.68,247.17 L127.58,246.68 L127.53,246.17 L127.52,245.67 L127.54,245.16 L127.58,244.67 L127.32,244.28 L127.09,243.87 L126.87,243.43 L126.69,242.97 L126.56,242.49 L126.50,242.00 L126.56,241.51 L126.69,241.03 L126.87,240.57 L127.09,240.13 L127.32,239.72 L127.58,239.33 L127.54,238.84 L127.52,238.33 L127.53,237.83 L127.58,237.32 L127.68,236.83 L127.85,236.38 L128.12,236.00 L128.44,235.69 L128.79,235.42 L129.17,235.19 L129.55,235.01 L129.93,234.85 L130.12,234.40 L130.32,233.97 L130.56,233.55 L130.83,233.16 L131.13,232.81 L131.47,232.54 L131.86,232.40 L132.27,232.35 L132.69,232.36 L133.10,232.42 L133.51,232.51 L133.90,232.63 L134.25,232.38 L134.62,232.15 L135.00,231.95 L135.40,231.80 L135.80,231.71 L136.21,231.71 L136.60,231.85 L136.97,232.08 L137.31,232.36 L137.64,232.68 L137.94,233.03 L138.21,233.39 L138.62,233.41 L139.03,233.46 L139.44,233.55 L139.84,233.68 L140.22,233.87 L140.57,234.14 L140.83,234.52 L141.04,234.95 L141.21,235.42 L141.34,235.90 L141.43,236.39 L141.51,236.88 L141.84,237.17 L142.16,237.48 L142.47,237.83 L142.75,238.20 L142.98,238.62 L143.16,239.07 L143.21,239.56 L143.20,240.07 L143.13,240.57 L143.02,241.06 L142.89,241.54Z" fill="url(#fol)"/>
<path d="M139.89,243.76 L142.18,244.58 M138.34,246.72 L139.90,248.92 M135.73,248.18 L136.06,251.06 M132.88,247.68 L131.89,250.32 M130.71,245.37 L128.71,246.95 M129.90,242.00 L127.52,242.00 M130.71,238.63 L128.71,237.05 M132.88,236.32 L131.89,233.68 M135.73,235.82 L136.06,232.94 M138.34,237.28 L139.90,235.08 M139.89,240.24 L142.18,239.42" stroke="#e69a3c" stroke-width="0.55" opacity="0.55"/>
<path d="M137.63,246.03 C137.35,246.20 137.05,246.37 136.73,246.44 C136.42,246.50 136.05,246.49 135.72,246.42 C135.38,246.35 135.04,246.16 134.72,246.03 C134.41,245.89 134.13,245.72 133.81,245.60 C133.49,245.47 133.17,245.42 132.81,245.29 C132.46,245.17 132.02,245.08 131.67,244.86 C131.32,244.64 130.92,244.33 130.69,243.97 C130.46,243.61 130.33,243.12 130.29,242.71 C130.25,242.29 130.38,241.85 130.47,241.47 C130.55,241.09 130.72,240.77 130.81,240.44 C130.89,240.11 130.93,239.81 130.99,239.48 C131.05,239.14 131.05,238.77 131.14,238.44 C131.24,238.11 131.38,237.76 131.58,237.51 C131.78,237.25 132.07,237.06 132.36,236.90 C132.64,236.74 132.96,236.67 133.28,236.57 C133.60,236.47 133.91,236.37 134.25,236.30 C134.59,236.24 134.96,236.14 135.32,236.17 C135.69,236.20 136.10,236.28 136.44,236.49 C136.78,236.69 137.10,237.05 137.34,237.40 C137.58,237.74 137.72,238.20 137.87,238.57 C138.02,238.93 138.10,239.28 138.26,239.60 C138.42,239.92 138.62,240.16 138.84,240.48 C139.06,240.80 139.37,241.12 139.57,241.49 C139.76,241.87 139.96,242.32 140.01,242.72 C140.05,243.12 139.96,243.55 139.83,243.89 C139.69,244.23 139.41,244.51 139.17,244.77 C138.94,245.03 138.66,245.22 138.40,245.43 C138.14,245.64 137.90,245.86 137.63,246.03Z" fill="#e2704c" opacity="0.55"/>
<path d="M137.14,245.19 C136.99,245.30 136.81,245.41 136.61,245.40 C136.41,245.39 136.15,245.26 135.92,245.13 C135.70,245.00 135.47,244.75 135.27,244.61 C135.06,244.47 134.90,244.36 134.69,244.29 C134.47,244.22 134.25,244.25 133.98,244.18 C133.72,244.11 133.37,244.04 133.10,243.84 C132.83,243.65 132.53,243.32 132.37,243.00 C132.21,242.68 132.14,242.25 132.13,241.92 C132.12,241.59 132.25,241.30 132.31,241.04 C132.36,240.78 132.44,240.60 132.45,240.36 C132.45,240.13 132.38,239.89 132.34,239.62 C132.30,239.36 132.21,239.03 132.22,238.77 C132.23,238.52 132.30,238.28 132.41,238.12 C132.52,237.96 132.72,237.90 132.89,237.83 C133.06,237.75 133.25,237.73 133.43,237.67 C133.61,237.60 133.77,237.47 133.97,237.41 C134.17,237.35 134.40,237.24 134.64,237.30 C134.88,237.36 135.18,237.51 135.42,237.75 C135.65,237.99 135.87,238.40 136.03,238.74 C136.19,239.07 136.26,239.48 136.37,239.77 C136.48,240.07 136.54,240.28 136.69,240.50 C136.84,240.73 137.07,240.88 137.29,241.13 C137.52,241.37 137.85,241.67 138.04,241.98 C138.24,242.29 138.43,242.69 138.48,243.00 C138.53,243.31 138.45,243.60 138.36,243.82 C138.26,244.04 138.06,244.17 137.92,244.32 C137.78,244.48 137.65,244.60 137.52,244.74 C137.38,244.89 137.29,245.08 137.14,245.19Z" fill="#d2404a" opacity="0.85"/>
<path d="M136.28,243.69 C136.27,243.84 136.27,244.03 136.20,244.10 C136.14,244.16 136.01,244.15 135.89,244.08 C135.77,244.01 135.60,243.82 135.46,243.67 C135.33,243.51 135.20,243.31 135.09,243.16 C134.97,243.02 134.87,242.91 134.76,242.79 C134.65,242.67 134.54,242.58 134.43,242.44 C134.32,242.31 134.19,242.16 134.10,242.00 C134.01,241.84 133.94,241.66 133.88,241.49 C133.82,241.33 133.80,241.19 133.75,241.03 C133.70,240.88 133.65,240.74 133.58,240.56 C133.51,240.39 133.40,240.17 133.33,239.98 C133.27,239.79 133.19,239.55 133.19,239.40 C133.19,239.26 133.25,239.16 133.34,239.14 C133.43,239.11 133.60,239.21 133.73,239.28 C133.86,239.35 134.01,239.50 134.12,239.56 C134.23,239.62 134.30,239.65 134.37,239.65 C134.45,239.65 134.51,239.57 134.59,239.56 C134.68,239.56 134.79,239.54 134.90,239.60 C135.02,239.66 135.16,239.79 135.28,239.93 C135.40,240.08 135.51,240.28 135.61,240.45 C135.72,240.62 135.80,240.79 135.90,240.96 C136.00,241.13 136.11,241.29 136.20,241.46 C136.30,241.64 136.42,241.84 136.48,242.01 C136.54,242.18 136.58,242.37 136.58,242.50 C136.57,242.63 136.50,242.71 136.45,242.78 C136.40,242.86 136.30,242.86 136.27,242.93 C136.23,243.00 136.22,243.08 136.23,243.21 C136.23,243.34 136.28,243.55 136.28,243.69Z" fill="#b82a40" opacity="0.7"/>
<ellipse cx="122.0" cy="259.2" rx="14.5" ry="11.2" fill="#f3cdbf" opacity="0.6"/>
<path d="M134.28,259.20 L134.53,259.65 L134.74,260.12 L134.91,260.60 L135.02,261.10 L135.04,261.59 L134.95,262.07 L134.68,262.52 L134.31,262.92 L133.87,263.29 L133.38,263.63 L132.86,263.94 L132.33,264.22 L132.22,264.70 L132.06,265.18 L131.86,265.65 L131.59,266.11 L131.26,266.54 L130.84,266.91 L130.29,267.17 L129.69,267.36 L129.05,267.49 L128.40,267.58 L127.75,267.62 L127.10,267.64 L126.66,268.00 L126.19,268.34 L125.68,268.66 L125.13,268.93 L124.54,269.16 L123.92,269.30 L123.28,269.29 L122.63,269.20 L122.00,269.06 L121.39,268.86 L120.81,268.63 L120.25,268.39 L119.63,268.51 L118.98,268.60 L118.32,268.66 L117.66,268.67 L117.01,268.61 L116.39,268.48 L115.85,268.21 L115.37,267.87 L114.95,267.49 L114.57,267.08 L114.25,266.65 L113.96,266.21 L113.34,266.06 L112.73,265.87 L112.14,265.65 L111.58,265.39 L111.07,265.08 L110.64,264.71 L110.38,264.27 L110.22,263.79 L110.13,263.29 L110.11,262.79 L110.15,262.30 L110.21,261.82 L109.81,261.43 L109.43,261.03 L109.09,260.60 L108.80,260.15 L108.60,259.68 L108.50,259.20 L108.60,258.72 L108.80,258.25 L109.09,257.80 L109.43,257.37 L109.81,256.97 L110.21,256.58 L110.15,256.10 L110.11,255.61 L110.13,255.11 L110.22,254.61 L110.38,254.13 L110.64,253.69 L111.07,253.32 L111.58,253.01 L112.14,252.75 L112.73,252.53 L113.34,252.34 L113.96,252.19 L114.25,251.75 L114.57,251.32 L114.95,250.91 L115.37,250.53 L115.85,250.19 L116.39,249.92 L117.01,249.79 L117.66,249.73 L118.32,249.74 L118.98,249.80 L119.63,249.89 L120.25,250.01 L120.81,249.77 L121.39,249.54 L122.00,249.34 L122.63,249.20 L123.28,249.11 L123.92,249.10 L124.54,249.24 L125.13,249.47 L125.68,249.74 L126.19,250.06 L126.66,250.40 L127.10,250.76 L127.75,250.78 L128.40,250.82 L129.05,250.91 L129.69,251.04 L130.29,251.23 L130.84,251.49 L131.26,251.86 L131.59,252.29 L131.86,252.75 L132.06,253.22 L132.22,253.70 L132.33,254.18 L132.86,254.46 L133.38,254.77 L133.87,255.11 L134.31,255.48 L134.68,255.88 L134.95,256.33 L135.04,256.81 L135.02,257.30 L134.91,257.80 L134.74,258.28 L134.53,258.75Z" fill="url(#folL)" stroke="#d98c3a" stroke-width="0.75"/>
<path d="M134.28,259.20 L134.53,259.65 L134.74,260.12 L134.91,260.60 L135.02,261.10 L135.04,261.59 L134.95,262.07 L134.68,262.52 L134.31,262.92 L133.87,263.29 L133.38,263.63 L132.86,263.94 L132.33,264.22 L132.22,264.70 L132.06,265.18 L131.86,265.65 L131.59,266.11 L131.26,266.54 L130.84,266.91 L130.29,267.17 L129.69,267.36 L129.05,267.49 L128.40,267.58 L127.75,267.62 L127.10,267.64 L126.66,268.00 L126.19,268.34 L125.68,268.66 L125.13,268.93 L124.54,269.16 L123.92,269.30 L123.28,269.29 L122.63,269.20 L122.00,269.06 L121.39,268.86 L120.81,268.63 L120.25,268.39 L119.63,268.51 L118.98,268.60 L118.32,268.66 L117.66,268.67 L117.01,268.61 L116.39,268.48 L115.85,268.21 L115.37,267.87 L114.95,267.49 L114.57,267.08 L114.25,266.65 L113.96,266.21 L113.34,266.06 L112.73,265.87 L112.14,265.65 L111.58,265.39 L111.07,265.08 L110.64,264.71 L110.38,264.27 L110.22,263.79 L110.13,263.29 L110.11,262.79 L110.15,262.30 L110.21,261.82 L109.81,261.43 L109.43,261.03 L109.09,260.60 L108.80,260.15 L108.60,259.68 L108.50,259.20 L108.60,258.72 L108.80,258.25 L109.09,257.80 L109.43,257.37 L109.81,256.97 L110.21,256.58 L110.15,256.10 L110.11,255.61 L110.13,255.11 L110.22,254.61 L110.38,254.13 L110.64,253.69 L111.07,253.32 L111.58,253.01 L112.14,252.75 L112.73,252.53 L113.34,252.34 L113.96,252.19 L114.25,251.75 L114.57,251.32 L114.95,250.91 L115.37,250.53 L115.85,250.19 L116.39,249.92 L117.01,249.79 L117.66,249.73 L118.32,249.74 L118.98,249.80 L119.63,249.89 L120.25,250.01 L120.81,249.77 L121.39,249.54 L122.00,249.34 L122.63,249.20 L123.28,249.11 L123.92,249.10 L124.54,249.24 L125.13,249.47 L125.68,249.74 L126.19,250.06 L126.66,250.40 L127.10,250.76 L127.75,250.78 L128.40,250.82 L129.05,250.91 L129.69,251.04 L130.29,251.23 L130.84,251.49 L131.26,251.86 L131.59,252.29 L131.86,252.75 L132.06,253.22 L132.22,253.70 L132.33,254.18 L132.86,254.46 L133.38,254.77 L133.87,255.11 L134.31,255.48 L134.68,255.88 L134.95,256.33 L135.04,256.81 L135.02,257.30 L134.91,257.80 L134.74,258.28 L134.53,258.75Z" fill="url(#fol)"/>
<path d="M129.77,260.92 L133.40,261.73 M127.30,263.83 L129.78,265.98 M123.15,265.26 L123.69,268.08 M118.64,264.77 L117.06,267.36 M115.19,262.51 L112.01,264.05 M113.90,259.20 L110.12,259.20 M115.19,255.89 L112.01,254.35 M118.64,253.63 L117.06,251.04 M123.15,253.14 L123.69,250.32 M127.30,254.57 L129.78,252.42 M129.77,257.48 L133.40,256.67" stroke="#e69a3c" stroke-width="0.55" opacity="0.55"/>
<path d="M130.14,257.25 C130.16,257.58 130.21,257.89 130.14,258.22 C130.07,258.54 129.97,258.89 129.73,259.21 C129.48,259.53 129.07,259.85 128.66,260.13 C128.25,260.41 127.70,260.64 127.24,260.88 C126.78,261.13 126.34,261.33 125.89,261.60 C125.45,261.86 125.06,262.17 124.55,262.46 C124.04,262.75 123.45,263.12 122.82,263.33 C122.18,263.54 121.39,263.72 120.74,263.74 C120.08,263.76 119.40,263.62 118.87,263.46 C118.35,263.29 117.98,262.98 117.60,262.75 C117.23,262.52 116.98,262.27 116.63,262.07 C116.28,261.87 115.89,261.74 115.50,261.56 C115.12,261.38 114.63,261.22 114.32,260.99 C114.02,260.75 113.76,260.46 113.66,260.16 C113.56,259.86 113.64,259.50 113.74,259.17 C113.83,258.84 114.04,258.51 114.23,258.17 C114.41,257.83 114.58,257.49 114.84,257.14 C115.11,256.80 115.37,256.41 115.80,256.10 C116.23,255.78 116.80,255.46 117.40,255.26 C118.01,255.05 118.77,254.94 119.43,254.88 C120.08,254.82 120.74,254.89 121.33,254.89 C121.92,254.89 122.40,254.92 122.95,254.87 C123.51,254.82 124.06,254.68 124.69,254.60 C125.31,254.51 126.07,254.35 126.72,254.34 C127.37,254.33 128.09,254.38 128.59,254.54 C129.09,254.69 129.46,254.99 129.71,255.28 C129.95,255.57 129.99,255.95 130.07,256.28 C130.14,256.60 130.13,256.93 130.14,257.25Z" fill="#e2704c" opacity="0.55"/>
<path d="M129.42,257.38 C129.26,257.61 128.84,257.87 128.58,258.08 C128.32,258.30 128.07,258.48 127.86,258.68 C127.64,258.88 127.55,259.07 127.31,259.26 C127.07,259.45 126.80,259.67 126.43,259.83 C126.06,260.00 125.54,260.14 125.08,260.26 C124.62,260.37 124.12,260.43 123.67,260.53 C123.22,260.63 122.85,260.72 122.38,260.87 C121.92,261.01 121.45,261.23 120.90,261.40 C120.34,261.56 119.62,261.79 119.04,261.86 C118.46,261.93 117.80,261.94 117.41,261.84 C117.03,261.74 116.83,261.49 116.73,261.28 C116.63,261.06 116.82,260.76 116.83,260.56 C116.84,260.36 116.90,260.20 116.79,260.06 C116.67,259.92 116.35,259.85 116.13,259.73 C115.90,259.60 115.53,259.47 115.43,259.30 C115.33,259.12 115.35,258.90 115.51,258.70 C115.67,258.50 116.06,258.28 116.38,258.09 C116.71,257.89 117.11,257.72 117.47,257.52 C117.84,257.33 118.15,257.13 118.55,256.93 C118.95,256.74 119.38,256.50 119.88,256.35 C120.38,256.20 121.01,256.07 121.53,256.04 C122.06,256.01 122.61,256.10 123.03,256.17 C123.44,256.25 123.71,256.43 124.04,256.50 C124.38,256.57 124.61,256.62 125.04,256.61 C125.46,256.60 126.03,256.48 126.59,256.44 C127.16,256.40 127.95,256.31 128.44,256.36 C128.93,256.40 129.40,256.53 129.56,256.70 C129.72,256.87 129.58,257.15 129.42,257.38Z" fill="#d2404a" opacity="0.85"/>
<path d="M125.98,257.99 C125.89,258.08 125.65,258.19 125.50,258.28 C125.35,258.37 125.16,258.44 125.08,258.52 C124.99,258.60 125.02,258.67 124.98,258.76 C124.95,258.85 124.99,258.96 124.86,259.07 C124.74,259.18 124.53,259.31 124.26,259.41 C123.98,259.50 123.56,259.59 123.21,259.63 C122.87,259.68 122.48,259.68 122.18,259.69 C121.87,259.70 121.63,259.68 121.37,259.69 C121.11,259.71 120.87,259.74 120.60,259.77 C120.32,259.80 119.99,259.86 119.72,259.88 C119.45,259.90 119.15,259.90 118.95,259.88 C118.76,259.86 118.65,259.80 118.54,259.74 C118.44,259.69 118.42,259.61 118.33,259.56 C118.24,259.50 118.11,259.45 118.00,259.40 C117.88,259.34 117.68,259.28 117.64,259.20 C117.60,259.12 117.59,259.02 117.74,258.92 C117.89,258.82 118.21,258.70 118.53,258.61 C118.84,258.52 119.29,258.44 119.61,258.37 C119.94,258.31 120.23,258.27 120.48,258.21 C120.73,258.14 120.87,258.07 121.09,257.99 C121.32,257.90 121.54,257.77 121.82,257.68 C122.11,257.59 122.48,257.48 122.80,257.42 C123.12,257.37 123.47,257.35 123.74,257.35 C124.01,257.35 124.21,257.40 124.42,257.43 C124.62,257.46 124.78,257.50 124.97,257.53 C125.16,257.56 125.40,257.57 125.58,257.60 C125.75,257.64 125.96,257.67 126.03,257.74 C126.09,257.80 126.06,257.90 125.98,257.99Z" fill="#b82a40" opacity="0.7"/>
<ellipse cx="96.7" cy="264.3" rx="11.7" ry="10.6" fill="#f3cdbf" opacity="0.6"/>
<path d="M106.44,264.30 L106.63,264.72 L106.80,265.17 L106.93,265.62 L107.02,266.08 L107.04,266.55 L106.97,267.00 L106.75,267.42 L106.45,267.80 L106.11,268.15 L105.72,268.47 L105.31,268.76 L104.89,269.02 L104.80,269.47 L104.68,269.93 L104.51,270.37 L104.30,270.81 L104.04,271.21 L103.71,271.56 L103.27,271.80 L102.79,271.98 L102.29,272.10 L101.77,272.18 L101.26,272.23 L100.74,272.25 L100.40,272.58 L100.02,272.90 L99.61,273.20 L99.18,273.46 L98.71,273.67 L98.22,273.80 L97.71,273.80 L97.20,273.72 L96.70,273.58 L96.22,273.39 L95.75,273.18 L95.31,272.95 L94.82,273.06 L94.31,273.15 L93.79,273.20 L93.26,273.21 L92.75,273.16 L92.26,273.03 L91.83,272.78 L91.45,272.46 L91.11,272.10 L90.81,271.72 L90.55,271.31 L90.32,270.90 L89.84,270.76 L89.36,270.58 L88.89,270.37 L88.44,270.13 L88.04,269.83 L87.70,269.49 L87.49,269.07 L87.36,268.62 L87.29,268.15 L87.28,267.68 L87.30,267.22 L87.36,266.76 L87.04,266.40 L86.74,266.02 L86.47,265.62 L86.24,265.20 L86.08,264.75 L86.00,264.30 L86.08,263.85 L86.24,263.40 L86.47,262.98 L86.74,262.58 L87.04,262.20 L87.36,261.84 L87.30,261.38 L87.28,260.92 L87.29,260.45 L87.36,259.98 L87.49,259.53 L87.70,259.11 L88.04,258.77 L88.44,258.47 L88.89,258.23 L89.36,258.02 L89.84,257.84 L90.32,257.70 L90.55,257.29 L90.81,256.88 L91.11,256.50 L91.45,256.14 L91.83,255.82 L92.26,255.57 L92.75,255.44 L93.26,255.39 L93.79,255.40 L94.31,255.45 L94.82,255.54 L95.31,255.65 L95.75,255.42 L96.22,255.21 L96.70,255.02 L97.20,254.88 L97.71,254.80 L98.22,254.80 L98.71,254.93 L99.18,255.14 L99.61,255.40 L100.02,255.70 L100.40,256.02 L100.74,256.35 L101.26,256.37 L101.77,256.42 L102.29,256.50 L102.79,256.62 L103.27,256.80 L103.71,257.04 L104.04,257.39 L104.30,257.79 L104.51,258.23 L104.68,258.67 L104.80,259.13 L104.89,259.58 L105.31,259.84 L105.72,260.13 L106.11,260.45 L106.45,260.80 L106.75,261.18 L106.97,261.60 L107.04,262.05 L107.02,262.52 L106.93,262.98 L106.80,263.43 L106.63,263.88Z" fill="url(#folL)" stroke="#d98c3a" stroke-width="0.75"/>
<path d="M106.44,264.30 L106.63,264.72 L106.80,265.17 L106.93,265.62 L107.02,266.08 L107.04,266.55 L106.97,267.00 L106.75,267.42 L106.45,267.80 L106.11,268.15 L105.72,268.47 L105.31,268.76 L104.89,269.02 L104.80,269.47 L104.68,269.93 L104.51,270.37 L104.30,270.81 L104.04,271.21 L103.71,271.56 L103.27,271.80 L102.79,271.98 L102.29,272.10 L101.77,272.18 L101.26,272.23 L100.74,272.25 L100.40,272.58 L100.02,272.90 L99.61,273.20 L99.18,273.46 L98.71,273.67 L98.22,273.80 L97.71,273.80 L97.20,273.72 L96.70,273.58 L96.22,273.39 L95.75,273.18 L95.31,272.95 L94.82,273.06 L94.31,273.15 L93.79,273.20 L93.26,273.21 L92.75,273.16 L92.26,273.03 L91.83,272.78 L91.45,272.46 L91.11,272.10 L90.81,271.72 L90.55,271.31 L90.32,270.90 L89.84,270.76 L89.36,270.58 L88.89,270.37 L88.44,270.13 L88.04,269.83 L87.70,269.49 L87.49,269.07 L87.36,268.62 L87.29,268.15 L87.28,267.68 L87.30,267.22 L87.36,266.76 L87.04,266.40 L86.74,266.02 L86.47,265.62 L86.24,265.20 L86.08,264.75 L86.00,264.30 L86.08,263.85 L86.24,263.40 L86.47,262.98 L86.74,262.58 L87.04,262.20 L87.36,261.84 L87.30,261.38 L87.28,260.92 L87.29,260.45 L87.36,259.98 L87.49,259.53 L87.70,259.11 L88.04,258.77 L88.44,258.47 L88.89,258.23 L89.36,258.02 L89.84,257.84 L90.32,257.70 L90.55,257.29 L90.81,256.88 L91.11,256.50 L91.45,256.14 L91.83,255.82 L92.26,255.57 L92.75,255.44 L93.26,255.39 L93.79,255.40 L94.31,255.45 L94.82,255.54 L95.31,255.65 L95.75,255.42 L96.22,255.21 L96.70,255.02 L97.20,254.88 L97.71,254.80 L98.22,254.80 L98.71,254.93 L99.18,255.14 L99.61,255.40 L100.02,255.70 L100.40,256.02 L100.74,256.35 L101.26,256.37 L101.77,256.42 L102.29,256.50 L102.79,256.62 L103.27,256.80 L103.71,257.04 L104.04,257.39 L104.30,257.79 L104.51,258.23 L104.68,258.67 L104.80,259.13 L104.89,259.58 L105.31,259.84 L105.72,260.13 L106.11,260.45 L106.45,260.80 L106.75,261.18 L106.97,261.60 L107.04,262.05 L107.02,262.52 L106.93,262.98 L106.80,263.43 L106.63,263.88Z" fill="url(#fol)"/>
<path d="M102.86,265.92 L105.73,266.68 M100.90,268.65 L102.87,270.68 M97.61,270.00 L98.04,272.66 M94.03,269.54 L92.79,271.98 M91.30,267.41 L88.78,268.87 M90.28,264.30 L87.28,264.30 M91.30,261.19 L88.78,259.73 M94.03,259.06 L92.79,256.62 M97.61,258.60 L98.04,255.94 M100.90,259.95 L102.87,257.92 M102.86,262.68 L105.73,261.92" stroke="#e69a3c" stroke-width="0.55" opacity="0.55"/>
<path d="M103.06,262.12 C103.08,262.43 103.11,262.72 103.09,263.02 C103.06,263.33 103.05,263.65 102.91,263.96 C102.76,264.27 102.52,264.60 102.23,264.88 C101.94,265.16 101.53,265.41 101.17,265.65 C100.81,265.90 100.44,266.09 100.09,266.34 C99.74,266.58 99.44,266.85 99.07,267.13 C98.69,267.40 98.29,267.76 97.82,268.00 C97.35,268.24 96.76,268.49 96.24,268.58 C95.71,268.66 95.12,268.62 94.67,268.51 C94.22,268.40 93.86,268.13 93.54,267.91 C93.22,267.70 93.02,267.43 92.75,267.24 C92.48,267.04 92.21,266.90 91.91,266.74 C91.61,266.57 91.22,266.45 90.94,266.25 C90.66,266.06 90.38,265.82 90.24,265.55 C90.11,265.28 90.09,264.95 90.13,264.64 C90.17,264.33 90.32,264.00 90.45,263.68 C90.58,263.36 90.73,263.04 90.91,262.71 C91.09,262.38 91.26,262.02 91.55,261.71 C91.84,261.39 92.21,261.04 92.65,260.81 C93.09,260.58 93.67,260.40 94.18,260.30 C94.69,260.20 95.25,260.22 95.73,260.21 C96.21,260.20 96.62,260.25 97.05,260.22 C97.49,260.18 97.88,260.09 98.35,260.00 C98.83,259.91 99.38,259.73 99.90,259.68 C100.42,259.63 101.02,259.60 101.47,259.70 C101.91,259.79 102.30,260.02 102.55,260.26 C102.80,260.51 102.89,260.86 102.97,261.17 C103.05,261.48 103.04,261.81 103.06,262.12Z" fill="#e2704c" opacity="0.55"/>
<path d="M102.49,262.27 C102.75,262.39 102.94,262.59 102.90,262.79 C102.86,263.00 102.54,263.28 102.24,263.50 C101.93,263.72 101.44,263.94 101.08,264.12 C100.72,264.31 100.39,264.46 100.10,264.63 C99.81,264.80 99.61,264.98 99.32,265.14 C99.04,265.31 98.74,265.51 98.40,265.64 C98.05,265.78 97.64,265.88 97.27,265.95 C96.90,266.02 96.54,266.02 96.18,266.07 C95.83,266.11 95.52,266.15 95.13,266.22 C94.74,266.30 94.29,266.44 93.83,266.53 C93.38,266.61 92.79,266.73 92.39,266.72 C91.99,266.71 91.59,266.62 91.44,266.47 C91.29,266.31 91.37,266.02 91.49,265.78 C91.61,265.54 91.97,265.25 92.15,265.04 C92.33,264.83 92.52,264.67 92.56,264.50 C92.60,264.34 92.46,264.23 92.41,264.07 C92.36,263.90 92.20,263.71 92.26,263.51 C92.31,263.31 92.47,263.07 92.72,262.87 C92.97,262.68 93.39,262.49 93.76,262.34 C94.13,262.18 94.55,262.06 94.93,261.92 C95.32,261.78 95.68,261.64 96.08,261.50 C96.48,261.37 96.91,261.20 97.32,261.11 C97.73,261.03 98.20,260.98 98.54,261.01 C98.88,261.05 99.15,261.19 99.35,261.32 C99.54,261.45 99.58,261.66 99.73,261.78 C99.87,261.90 99.97,261.99 100.24,262.04 C100.50,262.09 100.93,262.05 101.30,262.09 C101.68,262.13 102.22,262.15 102.49,262.27Z" fill="#d2404a" opacity="0.85"/>
<path d="M99.72,263.01 C99.76,263.07 99.84,263.13 99.82,263.21 C99.81,263.28 99.76,263.38 99.64,263.47 C99.52,263.56 99.29,263.67 99.11,263.75 C98.93,263.84 98.70,263.92 98.54,264.00 C98.37,264.08 98.26,264.15 98.11,264.25 C97.97,264.34 97.86,264.46 97.68,264.57 C97.49,264.68 97.24,264.83 96.99,264.91 C96.74,265.00 96.42,265.08 96.17,265.10 C95.93,265.13 95.71,265.09 95.54,265.06 C95.37,265.03 95.28,264.96 95.15,264.93 C95.02,264.89 94.92,264.87 94.76,264.87 C94.60,264.86 94.38,264.90 94.19,264.89 C94.01,264.89 93.79,264.89 93.68,264.85 C93.57,264.82 93.52,264.75 93.52,264.67 C93.52,264.60 93.61,264.50 93.67,264.41 C93.72,264.33 93.79,264.25 93.83,264.16 C93.88,264.08 93.88,263.99 93.95,263.90 C94.03,263.80 94.11,263.68 94.28,263.58 C94.45,263.48 94.72,263.37 94.97,263.30 C95.23,263.22 95.56,263.17 95.81,263.13 C96.06,263.09 96.29,263.09 96.50,263.06 C96.71,263.03 96.85,262.99 97.07,262.92 C97.28,262.86 97.52,262.75 97.78,262.67 C98.04,262.59 98.38,262.48 98.63,262.44 C98.88,262.40 99.14,262.39 99.30,262.41 C99.46,262.44 99.51,262.52 99.57,262.59 C99.62,262.66 99.59,262.75 99.62,262.82 C99.64,262.89 99.69,262.95 99.72,263.01Z" fill="#b82a40" opacity="0.7"/>
<ellipse cx="75.6" cy="257.3" rx="9.8" ry="9.3" fill="#f3cdbf" opacity="0.6"/>
<path d="M83.61,257.30 L83.77,257.67 L83.91,258.05 L84.02,258.44 L84.09,258.84 L84.10,259.25 L84.04,259.64 L83.87,260.00 L83.62,260.33 L83.34,260.63 L83.02,260.91 L82.68,261.16 L82.34,261.38 L82.26,261.77 L82.16,262.17 L82.03,262.55 L81.85,262.92 L81.64,263.27 L81.36,263.57 L81.01,263.78 L80.61,263.94 L80.20,264.05 L79.77,264.12 L79.35,264.15 L78.93,264.17 L78.64,264.46 L78.33,264.74 L78.00,265.00 L77.64,265.22 L77.26,265.40 L76.85,265.52 L76.43,265.51 L76.01,265.44 L75.60,265.32 L75.20,265.16 L74.82,264.98 L74.46,264.78 L74.05,264.87 L73.63,264.95 L73.20,265.00 L72.77,265.00 L72.35,264.96 L71.94,264.85 L71.59,264.63 L71.28,264.36 L71.00,264.05 L70.76,263.71 L70.55,263.36 L70.36,263.01 L69.96,262.88 L69.56,262.73 L69.17,262.55 L68.81,262.34 L68.47,262.09 L68.20,261.79 L68.02,261.42 L67.92,261.03 L67.86,260.63 L67.85,260.23 L67.87,259.82 L67.92,259.43 L67.65,259.12 L67.41,258.79 L67.18,258.44 L67.00,258.07 L66.86,257.69 L66.80,257.30 L66.86,256.91 L67.00,256.53 L67.18,256.16 L67.41,255.81 L67.65,255.48 L67.92,255.17 L67.87,254.78 L67.85,254.37 L67.86,253.97 L67.92,253.57 L68.02,253.18 L68.20,252.81 L68.47,252.51 L68.81,252.26 L69.17,252.05 L69.56,251.87 L69.96,251.72 L70.36,251.59 L70.55,251.24 L70.76,250.89 L71.00,250.55 L71.28,250.24 L71.59,249.97 L71.94,249.75 L72.35,249.64 L72.77,249.60 L73.20,249.60 L73.63,249.65 L74.05,249.73 L74.46,249.82 L74.82,249.62 L75.20,249.44 L75.60,249.28 L76.01,249.16 L76.43,249.09 L76.85,249.08 L77.26,249.20 L77.64,249.38 L78.00,249.60 L78.33,249.86 L78.64,250.14 L78.93,250.43 L79.35,250.45 L79.77,250.48 L80.20,250.55 L80.61,250.66 L81.01,250.82 L81.36,251.03 L81.64,251.33 L81.85,251.68 L82.03,252.05 L82.16,252.43 L82.26,252.83 L82.34,253.22 L82.68,253.44 L83.02,253.69 L83.34,253.97 L83.62,254.27 L83.87,254.60 L84.04,254.96 L84.10,255.35 L84.09,255.76 L84.02,256.16 L83.91,256.55 L83.77,256.93Z" fill="url(#folL)" stroke="#d98c3a" stroke-width="0.75"/>
<path d="M83.61,257.30 L83.77,257.67 L83.91,258.05 L84.02,258.44 L84.09,258.84 L84.10,259.25 L84.04,259.64 L83.87,260.00 L83.62,260.33 L83.34,260.63 L83.02,260.91 L82.68,261.16 L82.34,261.38 L82.26,261.77 L82.16,262.17 L82.03,262.55 L81.85,262.92 L81.64,263.27 L81.36,263.57 L81.01,263.78 L80.61,263.94 L80.20,264.05 L79.77,264.12 L79.35,264.15 L78.93,264.17 L78.64,264.46 L78.33,264.74 L78.00,265.00 L77.64,265.22 L77.26,265.40 L76.85,265.52 L76.43,265.51 L76.01,265.44 L75.60,265.32 L75.20,265.16 L74.82,264.98 L74.46,264.78 L74.05,264.87 L73.63,264.95 L73.20,265.00 L72.77,265.00 L72.35,264.96 L71.94,264.85 L71.59,264.63 L71.28,264.36 L71.00,264.05 L70.76,263.71 L70.55,263.36 L70.36,263.01 L69.96,262.88 L69.56,262.73 L69.17,262.55 L68.81,262.34 L68.47,262.09 L68.20,261.79 L68.02,261.42 L67.92,261.03 L67.86,260.63 L67.85,260.23 L67.87,259.82 L67.92,259.43 L67.65,259.12 L67.41,258.79 L67.18,258.44 L67.00,258.07 L66.86,257.69 L66.80,257.30 L66.86,256.91 L67.00,256.53 L67.18,256.16 L67.41,255.81 L67.65,255.48 L67.92,255.17 L67.87,254.78 L67.85,254.37 L67.86,253.97 L67.92,253.57 L68.02,253.18 L68.20,252.81 L68.47,252.51 L68.81,252.26 L69.17,252.05 L69.56,251.87 L69.96,251.72 L70.36,251.59 L70.55,251.24 L70.76,250.89 L71.00,250.55 L71.28,250.24 L71.59,249.97 L71.94,249.75 L72.35,249.64 L72.77,249.60 L73.20,249.60 L73.63,249.65 L74.05,249.73 L74.46,249.82 L74.82,249.62 L75.20,249.44 L75.60,249.28 L76.01,249.16 L76.43,249.09 L76.85,249.08 L77.26,249.20 L77.64,249.38 L78.00,249.60 L78.33,249.86 L78.64,250.14 L78.93,250.43 L79.35,250.45 L79.77,250.48 L80.20,250.55 L80.61,250.66 L81.01,250.82 L81.36,251.03 L81.64,251.33 L81.85,251.68 L82.03,252.05 L82.16,252.43 L82.26,252.83 L82.34,253.22 L82.68,253.44 L83.02,253.69 L83.34,253.97 L83.62,254.27 L83.87,254.60 L84.04,254.96 L84.10,255.35 L84.09,255.76 L84.02,256.16 L83.91,256.55 L83.77,256.93Z" fill="url(#fol)"/>
<path d="M80.67,258.70 L83.03,259.36 M79.06,261.06 L80.67,262.82 M76.35,262.23 L76.70,264.53 M73.41,261.83 L72.38,263.94 M71.16,259.99 L69.09,261.25 M70.32,257.30 L67.86,257.30 M71.16,254.61 L69.09,253.35 M73.41,252.77 L72.38,250.66 M76.35,252.37 L76.70,250.07 M79.06,253.54 L80.67,251.78 M80.67,255.90 L83.03,255.24" stroke="#e69a3c" stroke-width="0.55" opacity="0.55"/>
<path d="M80.93,258.82 C81.00,259.13 81.04,259.49 80.91,259.74 C80.78,259.99 80.47,260.20 80.15,260.32 C79.82,260.45 79.35,260.46 78.96,260.49 C78.56,260.51 78.15,260.47 77.78,260.46 C77.40,260.46 77.06,260.47 76.69,260.46 C76.33,260.45 75.96,260.46 75.58,260.40 C75.20,260.34 74.80,260.23 74.44,260.08 C74.07,259.94 73.73,259.72 73.41,259.53 C73.08,259.33 72.80,259.12 72.48,258.91 C72.16,258.70 71.81,258.51 71.47,258.28 C71.13,258.05 70.71,257.80 70.43,257.52 C70.15,257.24 69.87,256.89 69.79,256.59 C69.71,256.29 69.79,255.96 69.94,255.71 C70.08,255.46 70.43,255.27 70.68,255.09 C70.93,254.92 71.23,254.81 71.44,254.65 C71.65,254.48 71.78,254.31 71.94,254.12 C72.11,253.93 72.21,253.67 72.43,253.48 C72.64,253.30 72.92,253.10 73.25,253.01 C73.57,252.92 74.00,252.91 74.39,252.94 C74.79,252.97 75.22,253.08 75.62,253.18 C76.03,253.28 76.42,253.40 76.82,253.53 C77.22,253.66 77.64,253.79 78.02,253.97 C78.39,254.15 78.79,254.37 79.08,254.63 C79.36,254.88 79.59,255.20 79.73,255.49 C79.87,255.78 79.88,256.08 79.93,256.35 C79.99,256.62 79.98,256.85 80.07,257.11 C80.15,257.37 80.32,257.61 80.46,257.89 C80.61,258.18 80.86,258.52 80.93,258.82Z" fill="#e2704c" opacity="0.55"/>
<path d="M79.34,258.25 C79.49,258.45 79.77,258.73 79.83,258.94 C79.89,259.15 79.89,259.38 79.73,259.49 C79.56,259.60 79.19,259.63 78.85,259.60 C78.51,259.57 78.04,259.42 77.68,259.33 C77.32,259.23 76.99,259.10 76.68,259.02 C76.37,258.95 76.12,258.92 75.83,258.86 C75.54,258.81 75.24,258.78 74.94,258.70 C74.64,258.61 74.32,258.48 74.05,258.34 C73.79,258.20 73.57,258.01 73.35,257.85 C73.13,257.69 72.97,257.53 72.72,257.37 C72.48,257.21 72.19,257.06 71.90,256.88 C71.61,256.69 71.21,256.47 70.99,256.26 C70.77,256.05 70.57,255.80 70.59,255.63 C70.60,255.46 70.83,255.31 71.07,255.24 C71.32,255.16 71.77,255.19 72.07,255.17 C72.37,255.16 72.67,255.20 72.87,255.16 C73.06,255.11 73.11,255.02 73.23,254.91 C73.35,254.80 73.41,254.62 73.59,254.52 C73.77,254.43 74.03,254.34 74.32,254.34 C74.61,254.35 74.99,254.44 75.32,254.54 C75.65,254.65 75.99,254.82 76.30,254.95 C76.62,255.09 76.91,255.22 77.22,255.36 C77.53,255.50 77.88,255.62 78.17,255.78 C78.45,255.94 78.77,256.13 78.95,256.32 C79.12,256.51 79.20,256.72 79.21,256.89 C79.23,257.07 79.07,257.21 79.03,257.35 C78.99,257.49 78.90,257.58 78.95,257.73 C79.00,257.88 79.20,258.05 79.34,258.25Z" fill="#d2404a" opacity="0.85"/>
<path d="M78.00,257.76 C78.10,257.86 78.25,258.00 78.27,258.08 C78.28,258.16 78.22,258.23 78.10,258.25 C77.98,258.27 77.73,258.23 77.53,258.19 C77.32,258.15 77.07,258.06 76.88,258.01 C76.68,257.96 76.52,257.92 76.35,257.88 C76.18,257.85 76.03,257.84 75.86,257.80 C75.69,257.76 75.50,257.72 75.32,257.66 C75.14,257.60 74.95,257.51 74.79,257.43 C74.63,257.35 74.51,257.26 74.37,257.17 C74.23,257.09 74.11,257.01 73.95,256.93 C73.79,256.84 73.58,256.76 73.39,256.66 C73.21,256.56 72.97,256.43 72.86,256.33 C72.74,256.23 72.67,256.12 72.70,256.06 C72.73,256.00 72.90,255.97 73.04,255.95 C73.18,255.94 73.42,255.97 73.56,255.97 C73.70,255.97 73.80,255.97 73.88,255.95 C73.95,255.92 73.94,255.85 74.00,255.80 C74.06,255.76 74.11,255.69 74.23,255.67 C74.34,255.65 74.53,255.66 74.71,255.69 C74.89,255.73 75.12,255.81 75.31,255.88 C75.51,255.95 75.70,256.03 75.88,256.10 C76.07,256.18 76.26,256.24 76.45,256.31 C76.64,256.39 76.86,256.46 77.03,256.55 C77.21,256.64 77.39,256.74 77.49,256.84 C77.59,256.93 77.61,257.02 77.63,257.10 C77.64,257.17 77.57,257.22 77.58,257.28 C77.58,257.35 77.59,257.39 77.67,257.47 C77.74,257.55 77.90,257.66 78.00,257.76Z" fill="#b82a40" opacity="0.7"/>
<line x1="168.5" y1="23.0" x2="168.5" y2="83.3" stroke="#8a8a8a" stroke-width="0.9"/>
<line x1="168.5" y1="83.3" x2="398.5" y2="83.3" stroke="#8a8a8a" stroke-width="0.9"/>
<line x1="165.7" y1="53.2" x2="171.1" y2="53.2" stroke="#8a8a8a" stroke-width="0.9"/>
<text x="168.0" y="91.9" class="ax" textLength="12" lengthAdjust="spacingAndGlyphs">Time</text>
<text transform="translate(164.3,54.2) rotate(-90)" text-anchor="middle" class="ax" textLength="57.5" lengthAdjust="spacingAndGlyphs">Serum hormonal levels</text>
<path d="M224.00,58.00 C224.32,56.06 225.40,49.79 225.90,46.34 C226.40,42.89 226.58,38.81 227.00,37.30 C227.42,35.79 227.83,36.13 228.40,37.30 C228.97,38.47 229.63,41.61 230.40,44.31 C231.17,47.02 232.57,51.97 233.00,53.50" fill="none" stroke="#a9729f" stroke-width="0.75" stroke-linecap="round" stroke-linejoin="round" />
<path d="M243.60,53.50 C243.97,51.91 245.20,46.78 245.80,43.98 C246.40,41.19 246.73,37.91 247.20,36.70 C247.67,35.49 247.90,35.49 248.60,36.70 C249.30,37.91 250.37,41.19 251.40,43.98 C252.43,46.78 254.23,51.91 254.80,53.50" fill="none" stroke="#a9729f" stroke-width="0.75" stroke-linecap="round" stroke-linejoin="round" />
<path d="M263.00,53.50 C263.30,52.23 264.33,48.09 264.80,45.86 C265.27,43.62 265.40,41.06 265.80,40.10 C266.20,39.14 266.54,39.14 267.20,40.10 C267.86,41.06 268.80,43.62 269.75,45.86 C270.70,48.09 272.38,52.23 272.90,53.50" fill="none" stroke="#a9729f" stroke-width="0.75" stroke-linecap="round" stroke-linejoin="round" />
<path d="M285.00,53.50 C285.30,52.35 286.33,48.62 286.80,46.62 C287.27,44.62 287.40,42.35 287.80,41.50 C288.20,40.65 288.57,40.65 289.20,41.50 C289.83,42.35 290.70,44.62 291.60,46.62 C292.50,48.62 294.10,52.35 294.60,53.50" fill="none" stroke="#a9729f" stroke-width="0.75" stroke-linecap="round" stroke-linejoin="round" />
<path d="M303.00,53.50 C303.28,52.61 304.27,49.70 304.70,48.16 C305.13,46.63 305.22,44.94 305.60,44.30 C305.98,43.66 306.51,43.66 307.00,44.30 C307.49,44.94 307.93,46.63 308.55,48.16 C309.17,49.70 310.34,52.61 310.70,53.50" fill="none" stroke="#a9729f" stroke-width="0.75" stroke-linecap="round" stroke-linejoin="round" />
<path d="M321.00,53.50 C321.28,52.86 322.27,50.73 322.70,49.65 C323.13,48.57 323.22,47.44 323.60,47.00 C323.98,46.56 324.51,46.56 325.00,47.00 C325.49,47.44 325.93,48.57 326.55,49.65 C327.17,50.73 328.34,52.86 328.70,53.50" fill="none" stroke="#a9729f" stroke-width="0.75" stroke-linecap="round" stroke-linejoin="round" />
<path d="M338.80,53.50 C339.03,52.90 339.87,50.92 340.20,49.92 C340.53,48.92 340.47,47.90 340.80,47.50 C341.13,47.10 341.83,47.10 342.20,47.50 C342.57,47.90 342.63,48.92 343.00,49.92 C343.37,50.92 344.17,52.90 344.40,53.50" fill="none" stroke="#a9729f" stroke-width="0.75" stroke-linecap="round" stroke-linejoin="round" />
<path d="M168.50,80.30 C171.25,80.30 179.75,80.33 185.00,80.30 C190.25,80.27 196.17,80.82 200.00,80.10 C203.83,79.38 205.33,78.02 208.00,76.00 C210.67,73.98 213.33,70.58 216.00,68.00 C218.67,65.42 221.33,62.50 224.00,60.50 C226.67,58.50 229.00,57.08 232.00,56.00 C235.00,54.92 237.33,54.40 242.00,54.00 C246.67,53.60 250.33,53.68 260.00,53.60 C269.67,53.52 276.83,53.52 300.00,53.50 C323.17,53.48 382.50,53.50 399.00,53.50" fill="none" stroke="#A23A88" stroke-width="3.20" stroke-linecap="butt" stroke-linejoin="round" />
<path d="M301.75,74.00 L302.61,73.92 L303.02,73.85 L303.43,73.78 L303.84,73.71 L304.25,73.65 L305.11,73.58 L305.11,80.78 L304.25,80.85 L303.84,80.91 L303.43,80.98 L303.02,81.05 L302.61,81.12 L301.75,81.20Z M308.20,72.68 L309.04,72.53 L309.43,72.37 L309.80,72.19 L310.17,71.99 L310.53,71.78 L311.34,71.56 L311.34,78.71 L310.53,78.93 L310.17,79.14 L309.80,79.34 L309.43,79.52 L309.04,79.68 L308.20,79.83Z M313.65,69.14 L314.43,68.88 L314.76,68.63 L315.09,68.38 L315.43,68.13 L315.76,67.88 L316.54,67.63 L316.54,74.73 L315.76,74.98 L315.43,75.23 L315.09,75.48 L314.76,75.73 L314.43,75.98 L313.65,76.24Z M318.78,65.20 L319.56,64.94 L319.89,64.68 L320.21,64.42 L320.54,64.16 L320.87,63.91 L321.65,63.65 L321.65,70.71 L320.87,70.96 L320.54,71.22 L320.21,71.47 L319.89,71.73 L319.56,71.99 L318.78,72.25Z M323.86,61.27 L324.62,61.00 L324.94,60.73 L325.24,60.44 L325.55,60.16 L325.85,59.87 L326.59,59.57 L326.59,66.58 L325.85,66.87 L325.55,67.16 L325.24,67.45 L324.94,67.73 L324.62,68.00 L323.86,68.27Z M328.30,56.73 L329.01,56.41 L329.28,56.09 L329.54,55.77 L329.80,55.44 L330.06,55.12 L330.77,54.79 L330.77,61.74 L330.06,62.07 L329.80,62.40 L329.54,62.72 L329.28,63.05 L329.01,63.37 L328.30,63.69Z M332.05,51.67 L332.72,51.32 L332.95,50.98 L333.18,50.63 L333.41,50.28 L333.64,49.93 L334.33,49.59 L334.33,56.49 L333.64,56.84 L333.41,57.19 L333.18,57.53 L332.95,57.88 L332.72,58.23 L332.05,58.58Z M335.50,46.47 L336.17,46.11 L336.38,45.75 L336.58,45.39 L336.78,45.02 L336.96,44.65 L337.60,44.27 L337.60,51.13 L336.96,51.51 L336.78,51.88 L336.58,52.25 L336.38,52.61 L336.17,52.97 L335.50,53.33Z M338.10,40.86 L338.69,40.47 L338.83,40.08 L338.97,39.68 L339.10,39.29 L339.23,38.89 L339.81,38.50 L339.81,45.31 L339.23,45.71 L339.10,46.10 L338.97,46.50 L338.83,46.89 L338.69,47.29 L338.10,47.68Z M339.89,35.00 L340.45,34.59 L340.55,34.19 L340.66,33.79 L340.76,33.38 L340.86,32.98 L341.41,32.58 L341.41,39.34 L340.86,39.75 L340.76,40.15 L340.66,40.55 L340.55,40.96 L340.45,41.36 L339.89,41.76Z M341.35,29.09 L341.90,28.69 L341.99,28.28 L342.09,27.87 L342.18,27.47 L342.28,27.06 L342.83,26.66 L342.83,33.38 L342.28,33.78 L342.18,34.19 L342.09,34.60 L341.99,35.00 L341.90,35.41 L341.35,35.81Z M342.79,23.23 L343.34,22.83 L343.44,22.43 L343.54,22.02 L343.64,21.62 L343.74,21.21 L344.29,20.81 L344.29,27.48 L343.74,27.89 L343.64,28.29 L343.54,28.70 L343.44,29.10 L343.34,29.51 L342.79,29.91Z M344.10,17.40 L344.63,16.99 L344.70,16.58 L344.78,16.17 L344.85,15.76 L344.92,15.35 L345.44,14.94 L345.44,21.57 L344.92,21.98 L344.85,22.39 L344.78,22.80 L344.70,23.21 L344.63,23.62 L344.10,24.03Z M345.07,11.56 L345.58,11.14 L345.64,10.73 L345.69,10.32 L345.75,9.90 L345.80,9.49 L346.30,9.08 L346.30,15.66 L345.80,16.08 L345.75,16.49 L345.69,16.90 L345.64,17.32 L345.58,17.73 L345.07,18.14Z M345.79,5.72 L346.28,5.31 L346.33,4.89 L346.37,4.48 L346.42,4.07 L346.46,3.65 L346.95,3.24 L346.95,9.78 L346.46,10.19 L346.42,10.61 L346.37,11.02 L346.33,11.44 L346.28,11.85 L345.79,12.26Z" fill="#145564"/>
<line x1="168.5" y1="109.0" x2="168.5" y2="177.3" stroke="#8a8a8a" stroke-width="0.9"/>
<line x1="168.5" y1="177.3" x2="398.5" y2="177.3" stroke="#8a8a8a" stroke-width="0.9"/>
<line x1="165.7" y1="129.3" x2="171.1" y2="129.3" stroke="#8a8a8a" stroke-width="0.9"/>
<line x1="165.7" y1="144.8" x2="171.1" y2="144.8" stroke="#8a8a8a" stroke-width="0.9"/>
<line x1="165.7" y1="160.3" x2="171.1" y2="160.3" stroke="#8a8a8a" stroke-width="0.9"/>
<text x="168.0" y="185.9" class="ax" textLength="12" lengthAdjust="spacingAndGlyphs">Time</text>
<text transform="translate(164.3,148.4) rotate(-90)" text-anchor="middle" class="ax" textLength="57.5" lengthAdjust="spacingAndGlyphs">Serum hormonal levels</text>
<path d="M168.50,174.40 C171.25,174.40 180.08,174.43 185.00,174.40 C189.92,174.37 195.00,174.47 198.00,174.20 C201.00,173.93 201.57,173.25 203.00,172.80 C204.43,172.35 204.93,172.63 206.60,171.50 C208.27,170.37 210.77,167.78 213.00,166.00 C215.23,164.22 217.83,162.38 220.00,160.80 C222.17,159.22 224.00,157.63 226.00,156.50 C228.00,155.37 228.83,154.63 232.00,154.00 C235.17,153.37 229.78,152.92 245.00,152.70 C260.22,152.48 310.25,152.70 323.30,152.70" fill="none" stroke="#A23A88" stroke-width="3.00" stroke-linecap="butt" stroke-linejoin="round" />
<path d="M168.50,166.40 C169.52,166.13 172.92,165.73 174.60,164.80 C176.28,163.87 177.67,162.53 178.60,160.80 C179.53,159.07 179.67,157.87 180.20,154.40 C180.73,150.93 181.27,144.53 181.80,140.00 C182.33,135.47 182.73,130.67 183.40,127.20 C184.07,123.73 184.73,121.20 185.80,119.20 C186.87,117.20 188.47,115.60 189.80,115.20 C191.13,114.80 192.47,115.47 193.80,116.80 C195.13,118.13 196.60,120.67 197.80,123.20 C199.00,125.73 200.07,128.93 201.00,132.00 C201.93,135.07 202.60,138.67 203.40,141.60 C204.20,144.53 204.87,147.07 205.80,149.60 C206.73,152.13 207.80,154.80 209.00,156.80 C210.20,158.80 211.53,160.40 213.00,161.60 C214.47,162.80 215.80,163.50 217.80,164.00 C219.80,164.50 213.80,164.50 225.00,164.60 C236.20,164.70 273.33,164.67 285.00,164.60 C296.67,164.53 291.67,164.60 295.00,164.20 C298.33,163.80 301.67,162.97 305.00,162.20 C308.33,161.43 311.92,160.27 315.00,159.60 C318.08,158.93 322.08,158.43 323.50,158.20" fill="none" stroke="#5F824B" stroke-width="2.30" stroke-linecap="butt" stroke-linejoin="round" />
<path d="M168.50,168.80 C172.72,168.77 188.52,169.13 193.80,168.60 C199.08,168.07 198.33,167.17 200.20,165.60 C202.07,164.03 203.53,162.13 205.00,159.20 C206.47,156.27 207.67,151.33 209.00,148.00 C210.33,144.67 211.93,140.27 213.00,139.20 C214.07,138.13 214.67,140.70 215.40,141.60 C216.13,142.50 216.47,145.90 217.40,144.60 C218.33,143.30 219.85,137.77 221.00,133.80 C222.15,129.83 223.35,123.78 224.30,120.80 C225.25,117.82 225.90,116.03 226.70,115.90 C227.50,115.77 228.28,117.57 229.10,120.00 C229.92,122.43 230.78,127.93 231.60,130.50 C232.42,133.07 233.18,135.93 234.00,135.40 C234.82,134.87 235.68,130.55 236.50,127.30 C237.32,124.05 238.10,118.62 238.90,115.90 C239.70,113.18 240.48,111.15 241.30,111.00 C242.12,110.85 242.98,113.78 243.80,115.00 C244.62,116.22 245.38,119.23 246.20,118.30 C247.02,117.37 247.87,112.12 248.70,109.40 C249.53,106.68 250.33,102.00 251.20,102.00 C252.07,102.00 253.03,106.40 253.90,109.40 C254.77,112.40 255.58,119.47 256.40,120.00 C257.22,120.53 257.98,116.80 258.80,112.60 C259.62,108.40 260.53,98.58 261.30,94.80 C262.07,91.02 262.65,89.63 263.40,89.90 C264.15,90.17 265.07,92.62 265.80,96.40 C266.53,100.18 267.07,109.08 267.80,112.60 C268.53,116.12 269.40,117.77 270.20,117.50 C271.00,117.23 271.78,113.17 272.60,111.00 C273.42,108.83 274.28,104.50 275.10,104.50 C275.92,104.50 276.68,108.70 277.50,111.00 C278.32,113.30 279.05,117.88 280.00,118.30 C280.95,118.72 282.25,114.72 283.20,113.50 C284.15,112.28 284.97,110.60 285.70,111.00 C286.43,111.40 286.93,113.18 287.60,115.90 C288.27,118.62 288.80,126.08 289.70,127.30 C290.60,128.52 292.45,123.88 293.00,123.20" fill="none" stroke="#E68020" stroke-width="1.90" stroke-linecap="butt" stroke-linejoin="round" />
<path d="M289.70,127.30 C290.25,126.62 291.85,125.22 293.00,123.20 C294.15,121.18 295.62,115.57 296.60,115.20 C297.58,114.83 298.10,117.87 298.90,121.00 C299.70,124.13 300.58,132.65 301.40,134.00 C302.22,135.35 302.98,130.85 303.80,129.10 C304.62,127.35 305.48,123.77 306.30,123.50 C307.12,123.23 307.90,124.93 308.70,127.50 C309.50,130.07 310.28,137.27 311.10,138.90 C311.92,140.53 312.92,137.70 313.60,137.30 C314.28,136.90 314.53,135.68 315.20,136.50 C315.87,137.32 316.65,140.03 317.60,142.20 C318.55,144.37 319.95,147.75 320.90,149.50 C321.85,151.25 322.90,152.17 323.30,152.70" fill="none" stroke="#E68020" stroke-width="1.50" stroke-linecap="butt" stroke-linejoin="round" />
<path d="M168.50,168.80 C172.72,168.77 188.52,169.13 193.80,168.60 C199.08,168.07 198.33,167.17 200.20,165.60 C202.07,164.03 204.20,160.27 205.00,159.20" fill="none" stroke="#E68020" stroke-width="2.80" stroke-linecap="butt" stroke-linejoin="round" />
<path d="M323.30,152.70 C323.58,152.57 324.32,152.85 325.00,151.90 C325.68,150.95 326.73,149.17 327.40,147.00 C328.07,144.83 328.48,142.57 329.00,138.90 C329.52,135.23 330.00,129.32 330.50,125.00 C331.00,120.68 331.42,115.58 332.00,113.00 C332.58,110.42 333.42,110.08 334.00,109.50 C334.58,108.92 335.00,108.75 335.50,109.50 C336.00,110.25 336.50,112.25 337.00,114.00 C337.50,115.75 338.08,118.75 338.50,120.00 C338.92,121.25 339.08,121.83 339.50,121.50 C339.92,121.17 340.42,119.25 341.00,118.00 C341.58,116.75 342.33,114.67 343.00,114.00 C343.67,113.33 344.42,113.00 345.00,114.00 C345.58,115.00 346.00,117.50 346.50,120.00 C347.00,122.50 347.50,127.67 348.00,129.00 C348.50,130.33 348.92,129.25 349.50,128.00 C350.08,126.75 350.83,122.92 351.50,121.50 C352.17,120.08 352.75,119.58 353.50,119.50 C354.25,119.42 355.25,120.17 356.00,121.00 C356.75,121.83 357.42,123.17 358.00,124.50 C358.58,125.83 359.25,128.25 359.50,129.00" fill="none" stroke="#E68020" stroke-width="1.15" stroke-linecap="butt" stroke-linejoin="round" opacity="0.9"/>
<path d="M327.00,155.00 L327.68,154.97 L328.06,154.93 L328.45,154.90 L328.83,154.87 L329.21,154.84 L329.89,154.81 L329.89,162.01 L329.21,162.04 L328.83,162.07 L328.45,162.10 L328.06,162.13 L327.68,162.17 L327.00,162.20Z M333.67,154.58 L334.35,154.53 L334.73,154.49 L335.11,154.43 L335.49,154.38 L335.87,154.32 L336.55,154.25 L336.55,161.10 L335.87,161.17 L335.49,161.23 L335.11,161.28 L334.73,161.34 L334.35,161.38 L333.67,161.43Z M340.15,153.49 L340.81,153.37 L341.17,153.24 L341.53,153.11 L341.89,152.97 L342.25,152.83 L342.90,152.68 L342.90,159.18 L342.25,159.33 L341.89,159.48 L341.53,159.62 L341.17,159.75 L340.81,159.87 L340.15,159.99Z M346.02,150.88 L346.64,150.67 L346.96,150.46 L347.28,150.25 L347.59,150.03 L347.90,149.80 L348.50,149.57 L348.50,155.73 L347.90,155.96 L347.59,156.19 L347.28,156.41 L346.96,156.63 L346.64,156.84 L346.02,157.05Z M350.98,147.00 L351.55,146.73 L351.81,146.45 L352.07,146.17 L352.33,145.89 L352.59,145.60 L353.15,145.32 L353.15,151.15 L352.59,151.44 L352.33,151.72 L352.07,152.00 L351.81,152.28 L351.55,152.56 L350.98,152.83Z M355.01,142.30 L355.53,141.98 L355.74,141.66 L355.94,141.34 L356.14,141.02 L356.34,140.69 L356.84,140.36 L356.84,145.86 L356.34,146.19 L356.14,146.52 L355.94,146.84 L355.74,147.16 L355.53,147.49 L355.01,147.80Z M357.97,136.99 L358.43,136.64 L358.58,136.29 L358.73,135.93 L358.88,135.58 L359.03,135.23 L359.48,134.88 L359.48,140.05 L359.03,140.40 L358.88,140.76 L358.73,141.11 L358.58,141.46 L358.43,141.81 L357.97,142.16Z" fill="#145564"/>
<path d="M315.80,169.60 L320.30,164.30 L321.60,164.30 L323.30,167.80 L327.10,167.80 L328.80,164.30 L330.10,164.30 L334.60,169.60 L330.10,174.90 L328.80,174.90 L327.10,171.40 L323.30,171.40 L321.60,174.90 L320.30,174.90Z" fill="#EC8E2E" stroke="#EC8E2E" stroke-width="0.60" stroke-linejoin="round"/>
<line x1="168.5" y1="204.5" x2="168.5" y2="276.0" stroke="#8a8a8a" stroke-width="0.9"/>
<line x1="168.5" y1="276.0" x2="398.5" y2="276.0" stroke="#8a8a8a" stroke-width="0.9"/>
<line x1="165.7" y1="205.2" x2="171.1" y2="205.2" stroke="#8a8a8a" stroke-width="0.9"/>
<line x1="165.7" y1="213.0" x2="171.1" y2="213.0" stroke="#8a8a8a" stroke-width="0.9"/>
<line x1="165.7" y1="220.8" x2="171.1" y2="220.8" stroke="#8a8a8a" stroke-width="0.9"/>
<line x1="165.7" y1="228.6" x2="171.1" y2="228.6" stroke="#8a8a8a" stroke-width="0.9"/>
<line x1="165.7" y1="236.4" x2="171.1" y2="236.4" stroke="#8a8a8a" stroke-width="0.9"/>
<line x1="165.7" y1="244.2" x2="171.1" y2="244.2" stroke="#8a8a8a" stroke-width="0.9"/>
<line x1="165.7" y1="252.0" x2="171.1" y2="252.0" stroke="#8a8a8a" stroke-width="0.9"/>
<line x1="165.7" y1="259.8" x2="171.1" y2="259.8" stroke="#8a8a8a" stroke-width="0.9"/>
<line x1="165.7" y1="267.6" x2="171.1" y2="267.6" stroke="#8a8a8a" stroke-width="0.9"/>
<text x="168.0" y="284.6" class="ax" textLength="12" lengthAdjust="spacingAndGlyphs">Time</text>
<text transform="translate(164.3,247.0) rotate(-90)" text-anchor="middle" class="ax" textLength="57.5" lengthAdjust="spacingAndGlyphs">Serum hormonal levels</text>
<path d="M168.50,273.60 C172.92,273.60 189.58,274.03 195.00,273.60 C200.42,273.17 199.00,271.93 201.00,271.00 C203.00,270.07 205.00,268.87 207.00,268.00 C209.00,267.13 211.00,266.33 213.00,265.80 C215.00,265.27 216.83,265.05 219.00,264.80 C221.17,264.55 222.50,264.40 226.00,264.30 C229.50,264.20 211.17,264.22 240.00,264.20 C268.83,264.18 372.50,264.20 399.00,264.20" fill="none" stroke="#A23A88" stroke-width="3.00" stroke-linecap="butt" stroke-linejoin="round" />
<path d="M168.50,270.40 C169.42,270.13 172.33,269.70 174.00,268.80 C175.67,267.90 177.25,266.63 178.50,265.00 C179.75,263.37 180.50,261.12 181.50,259.00 C182.50,256.88 183.48,253.92 184.50,252.30 C185.52,250.68 186.35,249.98 187.60,249.30 C188.85,248.62 190.50,248.20 192.00,248.20 C193.50,248.20 195.22,248.62 196.60,249.30 C197.98,249.98 199.18,250.93 200.30,252.30 C201.42,253.67 202.28,255.62 203.30,257.50 C204.32,259.38 205.28,261.85 206.40,263.60 C207.52,265.35 208.63,267.00 210.00,268.00 C211.37,269.00 212.10,269.30 214.60,269.60 C217.10,269.90 213.27,269.77 225.00,269.80 C236.73,269.83 273.33,269.60 285.00,269.80 C296.67,270.00 291.10,270.48 295.00,271.00 C298.90,271.52 306.17,272.58 308.40,272.90" fill="none" stroke="#5F824B" stroke-width="2.40" stroke-linecap="butt" stroke-linejoin="round" />
<path d="M168.50,261.30 C171.08,261.28 180.25,261.65 184.00,261.20 C187.75,260.75 189.00,259.47 191.00,258.60 C193.00,257.73 194.62,257.10 196.00,256.00 C197.38,254.90 198.48,253.47 199.30,252.00 C200.12,250.53 200.37,249.37 200.90,247.20 C201.43,245.03 201.82,242.27 202.50,239.00 C203.18,235.73 204.18,231.12 205.00,227.60 C205.82,224.08 206.60,220.87 207.40,217.90 C208.20,214.93 208.98,212.03 209.80,209.80 C210.62,207.57 211.48,205.05 212.30,204.50 C213.12,203.95 213.90,204.27 214.70,206.50 C215.50,208.73 216.25,214.48 217.10,217.90 C217.95,221.32 219.00,226.65 219.80,227.00 C220.60,227.35 221.20,223.00 221.90,220.00 C222.60,217.00 223.32,209.92 224.00,209.00 C224.68,208.08 225.32,211.50 226.00,214.50 C226.68,217.50 227.52,224.35 228.10,227.00 C228.68,229.65 228.92,232.23 229.50,230.40 C230.08,228.57 230.97,220.60 231.60,216.00 C232.23,211.40 232.68,203.50 233.30,202.80 C233.92,202.10 234.68,207.32 235.30,211.80 C235.92,216.28 236.48,226.13 237.00,229.70 C237.52,233.27 237.93,233.88 238.40,233.20 C238.87,232.52 239.27,228.02 239.80,225.60 C240.33,223.18 241.02,219.17 241.60,218.70 C242.18,218.23 242.78,221.20 243.30,222.80 C243.82,224.40 244.13,228.98 244.70,228.30 C245.27,227.62 245.97,221.92 246.70,218.70 C247.43,215.48 248.35,209.45 249.10,209.00 C249.85,208.55 250.50,212.55 251.20,216.00 C251.90,219.45 252.72,227.07 253.30,229.70 C253.88,232.33 254.25,232.48 254.70,231.80 C255.15,231.12 255.43,227.90 256.00,225.60 C256.57,223.30 257.40,218.47 258.10,218.00 C258.80,217.53 259.62,221.53 260.20,222.80 C260.78,224.07 261.03,225.93 261.60,225.60 C262.17,225.27 262.97,222.07 263.60,220.80 C264.23,219.53 264.70,217.20 265.40,218.00 C266.10,218.80 266.95,223.07 267.80,225.60 C268.65,228.13 269.58,233.20 270.50,233.20 C271.42,233.20 272.32,228.72 273.30,225.60 C274.28,222.48 275.48,215.65 276.40,214.50 C277.32,213.35 277.93,216.40 278.80,218.70 C279.67,221.00 280.85,226.12 281.60,228.30 C282.35,230.48 282.62,232.72 283.30,231.80 C283.98,230.88 284.95,224.77 285.70,222.80 C286.45,220.83 287.12,220.12 287.80,220.00 C288.48,219.88 289.12,220.48 289.80,222.10 C290.48,223.72 291.55,228.43 291.90,229.70" fill="none" stroke="#E68020" stroke-width="1.90" stroke-linecap="butt" stroke-linejoin="round" />
<path d="M289.80,222.10 C290.15,223.37 291.32,227.05 291.90,229.70 C292.48,232.35 292.85,234.22 293.30,238.00 C293.75,241.78 293.85,248.40 294.60,252.40 C295.35,256.40 296.57,259.68 297.80,262.00 C299.03,264.32 300.58,265.23 302.00,266.30 C303.42,267.37 304.52,267.87 306.30,268.40 C308.08,268.93 311.10,269.50 312.70,269.50 C314.30,269.50 315.37,268.58 315.90,268.40" fill="none" stroke="#E68020" stroke-width="1.35" stroke-linecap="butt" stroke-linejoin="round" />
<path d="M168.50,261.30 C171.08,261.28 180.25,261.65 184.00,261.20 C187.75,260.75 189.00,259.47 191.00,258.60 C193.00,257.73 195.17,256.43 196.00,256.00" fill="none" stroke="#E68020" stroke-width="2.80" stroke-linecap="butt" stroke-linejoin="round" />
<path d="M315.90,268.40 C316.42,267.50 318.12,266.02 319.00,263.00 C319.88,259.98 320.57,255.80 321.20,250.30 C321.83,244.80 322.37,235.47 322.80,230.00 C323.23,224.53 323.50,221.65 323.80,217.50 C324.10,213.35 324.18,207.72 324.60,205.10 C325.02,202.48 325.73,202.35 326.30,201.80 C326.87,201.25 327.43,201.43 328.00,201.80 C328.57,202.17 329.05,202.32 329.70,204.00 C330.35,205.68 331.15,209.83 331.90,211.90 C332.65,213.97 333.53,216.77 334.20,216.40 C334.87,216.03 335.35,211.67 335.90,209.70 C336.45,207.73 336.95,204.98 337.50,204.60 C338.05,204.22 338.72,205.25 339.20,207.40 C339.68,209.55 340.02,214.58 340.40,217.50 C340.78,220.42 341.03,224.15 341.50,224.90 C341.97,225.65 342.63,223.23 343.20,222.00 C343.77,220.77 344.15,219.47 344.90,217.50 C345.65,215.53 346.85,211.32 347.70,210.20 C348.55,209.08 349.25,209.95 350.00,210.80 C350.75,211.65 351.55,213.70 352.20,215.30 C352.85,216.90 353.62,219.55 353.90,220.40" fill="none" stroke="#E68020" stroke-width="1.15" stroke-linecap="butt" stroke-linejoin="round" opacity="0.9"/>
<path d="M311.55,269.80 L312.23,269.76 L312.56,269.72 L312.89,269.69 L313.23,269.65 L313.56,269.62 L314.24,269.58 L314.24,276.18 L313.56,276.22 L313.23,276.25 L312.89,276.29 L312.56,276.32 L312.23,276.36 L311.55,276.40Z M318.01,269.15 L318.69,269.11 L319.02,269.07 L319.35,269.02 L319.68,268.98 L320.01,268.93 L320.69,268.88 L320.69,275.31 L320.01,275.36 L319.68,275.40 L319.35,275.45 L319.02,275.49 L318.69,275.54 L318.01,275.58Z M324.29,268.22 L324.97,268.14 L325.29,268.05 L325.61,267.96 L325.93,267.86 L326.25,267.76 L326.91,267.65 L326.91,273.91 L326.25,274.01 L325.93,274.12 L325.61,274.22 L325.29,274.31 L324.97,274.39 L324.29,274.48Z M330.09,266.03 L330.74,265.87 L331.03,265.71 L331.32,265.55 L331.61,265.38 L331.90,265.21 L332.53,265.04 L332.53,271.13 L331.90,271.31 L331.61,271.48 L331.32,271.64 L331.03,271.80 L330.74,271.96 L330.09,272.12Z M335.18,262.72 L335.79,262.51 L336.05,262.30 L336.30,262.09 L336.56,261.88 L336.81,261.66 L337.42,261.45 L337.42,267.38 L336.81,267.59 L336.56,267.81 L336.30,268.02 L336.05,268.23 L335.79,268.45 L335.18,268.65Z M339.62,258.77 L340.19,258.53 L340.42,258.28 L340.64,258.04 L340.86,257.79 L341.08,257.54 L341.65,257.28 L341.65,263.05 L341.08,263.31 L340.86,263.56 L340.64,263.81 L340.42,264.06 L340.19,264.30 L339.62,264.55Z M343.31,254.29 L343.85,254.01 L344.04,253.74 L344.22,253.46 L344.41,253.18 L344.59,252.90 L345.12,252.62 L345.12,258.24 L344.59,258.52 L344.41,258.80 L344.22,259.08 L344.04,259.35 L343.85,259.63 L343.31,259.90Z M346.19,249.38 L346.69,249.08 L346.83,248.78 L346.97,248.48 L347.10,248.17 L347.24,247.87 L347.72,247.56 L347.72,253.03 L347.24,253.33 L347.10,253.64 L346.97,253.94 L346.83,254.24 L346.69,254.55 L346.19,254.85Z M348.36,244.25 L348.83,243.93 L348.94,243.62 L349.06,243.31 L349.17,242.99 L349.28,242.68 L349.74,242.37 L349.74,247.68 L349.28,247.99 L349.17,248.31 L349.06,248.62 L348.94,248.93 L348.83,249.25 L348.36,249.56Z M350.01,239.04 L350.44,238.72 L350.51,238.39 L350.58,238.07 L350.65,237.74 L350.72,237.41 L351.13,237.09 L351.13,242.25 L350.72,242.58 L350.65,242.91 L350.58,243.23 L350.51,243.56 L350.44,243.88 L350.01,244.21Z M351.09,233.80 L351.47,233.66 L351.49,233.53 L351.52,233.39 L351.55,233.26 L351.57,233.12 L351.95,232.99 L351.95,238.01 L351.57,238.15 L351.55,238.28 L351.52,238.42 L351.49,238.55 L351.47,238.69 L351.09,238.82Z" fill="#145564"/>
<path d="M295.10,285.30 L299.60,279.80 L300.90,279.80 L302.60,283.30 L318.00,283.30 L319.70,279.80 L321.00,279.80 L325.50,285.30 L321.00,290.80 L319.70,290.80 L318.00,287.30 L302.60,287.30 L300.90,290.80 L299.60,290.80Z" fill="#EC8E2E" stroke="#EC8E2E" stroke-width="0.60" stroke-linejoin="round"/>
<rect x="169.0" y="305.3" width="187.3" height="93.3" rx="12" ry="12" fill="#fff" stroke="#c9c9c9" stroke-width="0.9"/>
<line x1="177.8" y1="314.7" x2="203.5" y2="314.7" stroke="#A23A88" stroke-width="3"/>
<line x1="177.8" y1="329.0" x2="203.5" y2="329.0" stroke="#E68020" stroke-width="3"/>
<line x1="178" y1="343.5" x2="203.4" y2="343.5" stroke="#E68020" stroke-width="3.4" stroke-dasharray="2.7 3.6" stroke-dashoffset="1.3"/>
<line x1="177.8" y1="358.1" x2="203.5" y2="358.1" stroke="#6c8f58" stroke-width="3"/>
<line x1="178" y1="373.7" x2="203.4" y2="373.7" stroke="#145564" stroke-width="3.3" stroke-dasharray="2.7 3.6" stroke-dashoffset="1.3"/>
<path d="M178.00,388.80 L180.80,385.60 L181.30,385.60 L181.90,387.70 L199.70,387.70 L200.30,385.60 L200.80,385.60 L203.60,388.80 L200.80,392.00 L200.30,392.00 L199.70,389.90 L181.90,389.90 L181.30,392.00 L180.80,392.00Z" fill="#EC8E2E" stroke="#EC8E2E" stroke-width="0.25" stroke-linejoin="round"/>
<text x="208.8" y="316.7" fill="#c0509c" stroke="#c0509c" class="lg">Exogenous progesterone</text>
<text x="208.8" y="331.0" fill="#e38a2c" stroke="#e38a2c" class="lg">Endogenous progesterone</text>
<text x="208.8" y="345.5" fill="#e38a2c" stroke="#e38a2c" class="lg">Endogenous progesterone in the event of a pregnancy</text>
<text x="208.8" y="360.1" fill="#77a05a" stroke="#77a05a" class="lg">LH surge or ovulation trigger</text>
<text x="208.8" y="375.7" fill="#2a8fbf" stroke="#2a8fbf" class="lg">hCG (pregnancy)</text>
<text x="208.8" y="390.8" fill="#e38a2c" stroke="#e38a2c" class="lg">Endogenous progesterone gap</text>
</svg>
</body></html>
